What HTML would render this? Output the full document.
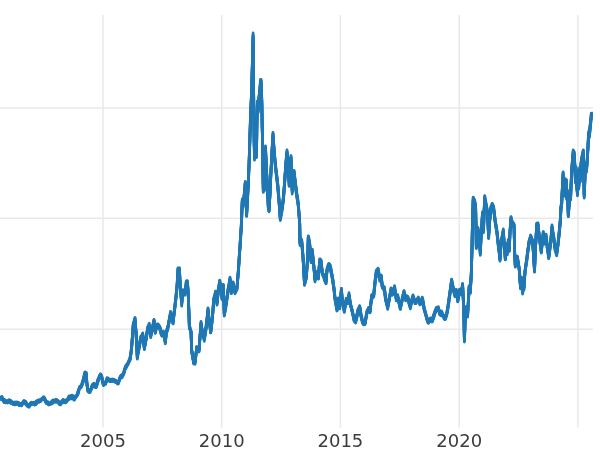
<!DOCTYPE html>
<html><head><meta charset="utf-8"><title>chart</title>
<style>
html,body{margin:0;padding:0;background:#fff;}
body{width:600px;height:450px;overflow:hidden;}
svg{display:block;}
text{font-family:"DejaVu Sans","Liberation Sans",sans-serif;font-size:18px;fill:#3c3c3c;}
</style></head><body>
<svg width="600" height="450" viewBox="0 0 600 450">
<rect width="600" height="450" fill="#fff"/>
<defs><clipPath id="ax"><rect x="-5" y="15" width="597.8" height="412.6"/></clipPath></defs>
<g stroke="#e9e9e9" stroke-width="1.5" fill="none">
<path d="M103,15V427.6M221.7,15V427.6M340.4,15V427.6M459.2,15V427.6M577.9,15V427.6"/>
<path d="M0,108.1H592.8M0,218.3H592.8M0,329.2H592.8"/>
</g>
<g clip-path="url(#ax)" fill="none" stroke="#1f77b4" stroke-width="2.78" stroke-linejoin="round" stroke-linecap="butt">
<polyline points="-2.0,397.1 -1.5,397.7 -1.0,398.0 -0.5,398.5 0.0,398.8 0.5,398.1 1.0,397.3 1.5,396.6 2.0,396.4 2.5,397.7 3.0,398.9 3.5,399.7 4.0,399.8 4.5,399.4 5.0,400.1 5.5,400.8 6.0,400.7 6.5,401.1 7.0,401.0 7.5,400.3 8.0,400.4 8.5,400.5 9.0,399.7 9.5,399.7 10.0,400.3 10.5,400.2 11.0,400.8 11.5,401.7 12.0,402.0 12.5,402.0 13.0,402.1 13.5,402.2 14.0,402.2 14.5,402.1 15.0,402.2 15.5,402.6 16.0,402.5 16.5,402.1 17.0,402.1 17.5,402.1 18.0,402.2 18.5,402.6 19.0,403.0 19.5,403.1 20.0,403.4 20.5,403.8 21.0,404.1 21.5,404.3 22.0,403.3 22.5,402.7 23.0,401.9 23.5,401.2 24.0,400.8 24.5,401.1 25.0,401.1 25.5,401.1 26.0,401.8 26.5,403.0 27.0,403.7 27.5,404.4 28.0,405.0 28.5,404.9 29.0,404.4 29.5,403.9 30.0,403.5 30.5,403.0 31.0,403.0 31.5,402.6 32.0,402.5 32.5,402.4 33.0,402.5 33.5,402.2 34.0,402.3 34.5,403.0 35.0,402.9 35.5,402.1 36.0,401.2 36.5,400.9 37.0,400.6 37.5,400.2 38.0,399.9 38.5,399.9 39.0,400.1 39.5,400.3 40.0,400.1 40.5,399.4 41.0,399.0 41.5,399.2 42.0,399.1 42.5,398.6 43.0,398.4 43.5,397.8 44.0,397.0 44.5,398.0 45.0,398.8 45.5,399.7 46.0,401.1 46.5,401.8 47.0,401.6 47.5,401.7 48.0,401.7 48.5,402.3 49.0,403.1 49.5,403.2 50.0,402.9 50.5,402.9 51.0,402.7 51.5,401.8 52.0,400.7 52.5,400.4 53.0,400.1 53.5,399.8 54.0,400.0 54.5,400.4 55.0,400.6 55.5,400.2 56.0,399.2 56.5,399.4 57.0,400.1 57.5,400.1 58.0,400.5 58.5,401.1 59.0,401.6 59.5,402.5 60.0,402.9 60.5,401.8 61.0,401.6 61.5,402.0 62.0,401.5 62.5,400.2 63.0,399.7 63.5,400.6 64.0,400.8 64.5,400.1 65.0,400.2 65.5,400.9 66.0,400.9 66.5,399.8 67.0,399.6 67.5,399.3 68.0,398.2 68.5,396.9 69.0,396.0 69.5,396.5 70.0,396.6 70.5,395.8 71.0,395.3 71.5,395.4 72.0,395.1 72.5,395.3 73.0,395.8 73.5,396.8 74.0,397.4 74.5,397.3 75.0,396.2 75.5,395.8 76.0,395.8 76.5,395.8 77.0,394.9 77.5,393.1 78.0,391.1 78.5,390.4 79.0,389.0 79.5,387.0 80.0,386.7 80.5,386.4 81.0,386.0 81.5,385.1 82.0,382.9 82.5,381.2 83.0,379.8 83.5,378.6 84.0,376.0 84.5,373.4 84.8,372.0 85.0,371.9 85.5,372.1 86.0,372.4 86.2,372.4 86.5,377.2 87.0,383.3 87.5,386.5 88.0,390.1 88.5,389.7 89.0,389.9 89.5,390.1 90.0,390.0 90.5,389.0 91.0,388.5 91.5,387.2 92.0,385.1 92.5,384.4 93.0,384.0 93.5,383.6 94.0,383.3 94.5,384.3 95.0,385.4 95.5,385.7 96.0,385.9 96.5,384.8 97.0,382.8 97.5,380.6 98.0,379.3 98.5,378.6 99.0,377.0 99.5,375.5 100.0,374.9 100.5,374.6 101.0,375.0 101.5,375.8 102.0,377.7 102.5,380.1 103.0,381.7 103.5,383.0 104.0,383.1 104.5,383.7 105.0,383.6 105.5,383.0 106.0,381.2 106.5,379.1 107.0,377.6 107.5,377.8 108.0,378.1 108.5,378.5 109.0,379.2 109.5,379.4 110.0,379.1 110.3,379.2 110.5,379.8 111.0,380.1 111.5,379.5 112.0,379.1 112.5,379.0 113.0,378.9 113.5,379.4 114.0,379.6 114.5,379.4 115.0,379.9 115.5,380.2 115.7,380.2 116.0,380.6 116.5,381.0 117.0,381.6 117.5,381.6 118.0,381.2 118.3,381.2 118.5,381.0 119.0,380.0 119.5,378.6 120.0,377.3 120.3,376.4 120.5,375.8 121.0,375.4 121.5,374.8 122.0,374.4 122.5,374.6 123.0,374.6 123.5,373.2 124.0,371.2 124.5,369.4 125.0,367.9 125.5,366.2 126.0,365.2 126.5,364.9 127.0,364.0 127.5,363.2 127.7,363.1 128.0,362.5 128.5,361.7 129.0,360.5 129.5,358.8 130.0,356.7 130.3,356.2 130.5,355.5 131.0,351.4 131.5,347.1 132.0,341.3 132.5,334.5 133.0,327.7 133.3,323.0 133.5,322.5 134.0,321.3 134.5,319.4 135.0,317.5 135.5,324.6 136.0,331.4 136.5,340.1 137.0,350.1 137.3,355.8 137.5,354.3 138.0,351.2 138.5,348.4 138.7,347.6 139.0,346.4 139.5,344.0 140.0,340.7 140.5,337.7 140.7,336.5 141.0,335.9 141.5,335.7 142.0,335.4 142.5,333.5 142.7,332.8 143.0,336.0 143.5,339.2 144.0,342.9 144.4,347.3 145.0,344.0 145.5,341.5 146.0,338.3 146.5,334.9 147.0,332.0 147.5,329.3 148.0,326.7 148.5,325.3 149.0,323.8 149.3,323.3 149.5,325.6 150.0,329.6 150.5,333.3 150.7,334.9 151.0,333.4 151.5,331.1 152.0,329.5 152.5,326.8 152.7,325.5 153.0,323.9 153.5,321.8 154.0,319.4 154.5,324.0 155.0,327.6 155.3,330.3 155.5,329.1 156.0,327.4 156.5,326.4 157.0,324.8 157.3,324.0 157.5,324.0 158.0,323.9 158.5,324.7 159.0,325.9 159.5,326.5 160.0,327.4 160.5,329.0 161.0,330.9 161.5,333.0 162.0,334.9 162.5,333.2 163.0,331.9 163.3,331.0 163.5,332.2 164.0,333.9 164.5,336.6 165.0,339.7 165.3,341.3 165.5,338.9 166.0,335.0 166.5,331.0 167.0,329.4 167.5,327.4 168.0,325.6 168.3,324.9 168.5,324.2 169.0,321.3 169.5,318.0 170.0,315.1 170.5,311.4 171.0,313.8 171.5,315.3 172.0,317.4 172.5,318.7 173.0,321.0 173.5,316.1 174.0,312.1 174.5,308.3 175.0,304.0 175.5,300.0 176.0,295.6 176.5,290.2 177.0,285.6 177.5,277.9 178.0,267.9 178.5,268.0 179.0,268.1 179.4,267.7 180.0,280.1 180.3,285.3 180.5,287.2 181.0,293.9 181.5,300.3 181.7,302.6 182.0,299.1 182.5,294.3 183.0,289.6 183.5,290.9 184.0,291.3 184.5,291.1 185.0,292.0 185.5,287.6 186.0,284.6 186.3,281.4 186.5,280.9 187.0,280.5 187.4,280.8 188.0,289.5 188.3,293.5 188.5,300.4 189.0,314.2 189.4,326.4 190.0,326.8 190.5,329.9 191.0,330.8 191.5,345.2 191.7,350.3 192.0,351.1 192.5,353.8 193.0,357.2 193.5,360.5 193.7,361.6 194.0,361.3 194.5,361.8 195.0,362.5 195.5,358.1 196.0,353.6 196.5,349.3 196.7,346.7 197.0,346.8 197.5,347.5 198.0,347.8 198.5,347.9 199.0,349.6 199.5,342.6 200.0,335.8 200.5,328.8 201.0,321.5 201.5,326.0 202.0,329.0 202.3,330.0 202.5,330.6 203.0,332.6 203.5,334.4 204.0,336.4 204.3,337.7 204.5,336.8 205.0,334.0 205.5,330.7 206.0,326.4 206.3,324.0 206.5,322.7 207.0,318.2 207.5,313.3 208.0,307.8 208.5,312.6 209.0,317.3 209.5,322.0 209.7,323.2 210.0,325.3 210.5,329.8 210.7,331.5 211.0,328.6 211.5,324.1 212.0,320.1 212.3,318.1 212.5,315.9 213.0,308.4 213.5,301.5 213.7,298.5 214.0,297.3 214.5,295.2 215.0,293.4 215.5,291.4 215.7,291.1 216.0,294.3 216.5,297.4 217.0,301.8 217.5,295.9 218.0,291.2 218.3,288.4 218.5,287.1 219.0,284.7 219.5,281.7 219.7,280.1 220.0,281.4 220.5,285.1 220.7,286.4 221.0,288.6 221.5,291.5 222.0,296.1 222.5,292.2 223.0,287.6 223.3,284.4 223.5,290.7 224.0,303.9 224.3,313.0 224.5,312.1 225.0,309.2 225.5,305.4 226.0,303.3 226.3,301.6 226.5,300.3 227.0,296.9 227.5,293.0 228.0,289.3 228.3,287.0 228.5,285.5 229.0,283.5 229.5,280.3 230.0,277.1 230.5,282.7 231.0,286.9 231.3,290.3 231.5,288.9 232.0,286.3 232.5,285.2 233.0,282.4 233.5,285.1 234.0,287.1 234.5,289.4 235.0,290.8 235.5,289.6 236.0,289.0 236.5,287.5 237.0,286.5 237.5,280.8 238.0,274.9 238.3,270.7 238.5,267.9 239.0,260.3 239.4,254.0 240.0,245.5 240.3,240.1 240.5,236.5 241.0,229.2 241.2,226.5 241.5,219.2 241.8,210.9 242.0,206.2 242.3,198.8 242.5,200.8 243.0,204.1 243.5,199.4 243.8,197.1 244.0,195.8 244.5,190.6 245.0,184.5 245.3,181.8 245.5,187.0 246.0,196.7 246.6,212.9 247.0,205.1 247.5,195.5 248.0,186.2 248.3,180.8 248.5,176.3 249.1,161.6 249.5,148.8 249.7,142.2 250.0,132.1 250.4,118.5 251.0,103.5 251.4,95.5 252.0,75.8 252.3,63.9 252.5,56.0 253.1,33.0 253.4,64.2 253.7,98.0 253.9,116.4 254.2,140.7 254.5,154.7 255.0,142.2 255.2,137.6 255.5,131.4 255.7,127.8 256.1,141.5 256.5,154.1 256.7,135.7 256.9,121.1 257.4,101.2 258.0,109.5 258.5,103.2 259.0,96.5 259.3,94.3 259.5,91.8 260.0,86.4 260.5,79.3 261.1,79.4 261.5,91.3 261.8,100.2 262.0,112.6 262.2,124.8 262.6,140.9 262.9,165.8 263.3,188.2 263.5,183.3 263.8,174.9 264.0,179.1 264.3,186.3 264.5,178.1 264.8,167.9 265.0,163.1 265.5,146.0 266.0,157.6 266.3,164.9 266.5,169.1 267.0,177.1 267.5,185.6 268.0,197.4 268.3,204.3 268.5,205.5 269.0,209.0 269.5,200.2 270.0,191.1 270.5,180.0 271.0,169.4 271.5,160.1 272.0,149.5 272.5,140.9 273.0,132.4 273.5,140.2 274.0,148.2 274.5,154.2 275.0,159.4 275.5,163.7 276.0,168.8 276.5,173.0 277.0,177.0 277.5,181.1 278.0,186.3 278.5,192.5 279.0,198.7 279.3,202.5 279.5,205.1 280.0,212.8 280.3,217.3 280.5,215.3 281.0,211.5 281.5,209.3 281.7,208.6 282.0,206.8 282.5,203.8 283.0,199.1 283.5,195.9 284.0,189.3 284.5,182.8 284.8,177.8 285.0,174.5 285.5,168.0 285.8,162.9 286.0,160.3 286.5,155.1 287.0,149.8 287.5,155.8 287.8,160.1 288.0,162.0 288.6,168.1 289.0,177.6 289.2,182.0 289.5,174.0 289.8,167.5 290.0,165.7 290.4,158.2 291.0,155.5 291.6,171.6 292.0,182.5 292.2,188.7 292.5,184.1 293.0,176.0 293.5,174.8 294.0,170.4 294.5,174.8 295.0,178.4 295.3,179.9 295.5,182.0 296.0,186.8 296.3,189.4 296.5,191.1 297.0,194.8 297.5,197.0 298.0,200.8 298.3,202.3 298.5,205.0 299.0,212.0 299.5,219.0 299.7,222.1 300.0,242.4 300.5,240.0 301.0,238.4 301.5,240.3 301.7,239.4 302.0,242.6 302.5,249.1 303.0,255.6 303.5,264.3 304.0,273.2 304.5,283.1 305.0,281.1 305.5,279.0 306.0,276.5 306.3,274.8 306.5,272.1 307.0,265.4 307.5,258.4 307.7,256.2 308.0,247.0 308.3,235.8 308.5,236.4 309.0,238.8 309.5,241.6 309.7,242.7 310.0,245.9 310.5,251.9 311.0,259.2 311.5,254.8 312.0,252.6 312.3,249.4 312.5,251.7 313.0,256.7 313.5,261.6 313.7,263.7 314.0,266.9 314.5,271.8 315.0,277.8 315.5,275.7 316.0,274.9 316.5,273.0 317.0,271.1 317.5,273.2 318.0,274.9 318.3,276.4 318.5,273.9 319.0,268.1 319.5,262.0 319.7,258.8 320.0,258.8 320.5,259.1 321.0,259.8 321.5,264.3 322.0,269.1 322.3,272.1 322.5,272.3 323.0,273.8 323.5,274.5 323.7,274.4 324.0,275.5 324.5,277.0 325.0,277.3 325.5,278.6 326.0,280.9 326.5,274.3 327.0,268.4 327.5,266.9 328.0,265.0 328.5,263.7 329.0,263.4 329.5,264.2 330.0,264.7 330.5,266.3 331.0,268.7 331.5,272.0 332.0,274.4 332.5,276.6 333.0,280.1 333.5,284.1 333.7,285.5 334.0,288.1 334.5,292.6 335.0,296.5 335.5,299.2 336.0,302.0 336.5,305.7 337.0,309.1 337.5,304.8 338.0,301.0 338.3,297.8 338.5,299.4 339.0,302.1 339.5,304.5 339.7,306.1 340.0,302.8 340.5,298.2 341.0,293.4 341.4,288.5 342.0,296.0 342.3,298.7 342.5,300.0 343.0,302.5 343.5,304.6 344.0,307.3 344.3,308.6 344.5,307.3 345.0,305.2 345.5,302.1 346.0,299.5 346.3,298.2 346.5,299.7 347.0,300.5 347.5,301.4 347.7,301.9 348.0,299.4 348.5,296.2 349.0,292.6 349.5,296.8 350.0,300.3 350.3,302.6 350.5,302.9 351.0,305.4 351.5,307.8 352.0,309.3 352.3,309.7 352.5,310.6 353.0,313.7 353.5,316.2 353.7,316.6 354.0,316.9 354.5,318.1 355.0,319.7 355.5,320.5 355.7,320.9 356.0,319.1 356.5,317.0 357.0,314.3 357.5,311.3 357.7,310.3 358.0,309.1 358.5,308.1 359.0,307.7 359.5,306.5 359.7,306.0 360.0,308.1 360.5,310.1 361.0,313.5 361.5,315.5 362.0,318.3 362.5,320.6 363.0,321.7 363.5,322.5 364.0,323.0 364.5,322.7 365.0,322.6 365.5,320.1 366.0,316.9 366.5,313.4 367.0,310.6 367.5,309.7 368.0,308.9 368.5,307.3 369.0,307.4 369.5,307.5 370.0,309.0 370.5,304.7 371.0,301.3 371.5,297.5 371.7,295.2 372.0,295.2 372.5,294.3 373.0,294.5 373.5,294.3 373.7,294.0 374.0,290.6 374.5,286.4 375.0,281.0 375.5,276.8 376.0,273.0 376.3,270.6 376.5,270.1 377.0,269.6 377.5,269.4 378.0,268.1 378.5,270.3 379.0,273.2 379.5,276.1 379.7,278.1 380.0,276.8 380.5,275.7 381.0,275.4 381.3,275.0 381.5,278.0 382.0,282.6 382.3,285.7 382.5,285.6 383.0,285.6 383.5,286.3 384.0,287.1 384.3,286.7 384.5,288.8 385.0,291.8 385.5,295.9 385.7,297.6 386.0,299.2 386.5,301.1 387.0,302.6 387.5,304.6 387.7,305.4 388.0,303.6 388.5,301.9 389.0,299.7 389.5,296.0 389.7,294.6 390.0,293.5 390.5,291.2 391.0,287.8 391.5,289.9 392.0,292.2 392.3,292.9 392.5,291.9 393.0,290.9 393.5,289.1 394.0,287.8 394.6,285.7 395.0,289.4 395.5,292.6 396.0,295.7 396.3,297.9 396.5,296.6 397.0,296.1 397.5,295.7 397.7,294.7 398.0,296.4 398.5,298.9 399.0,301.0 399.5,302.9 400.0,305.2 400.3,306.7 400.5,305.7 401.0,304.0 401.5,302.3 402.0,299.0 402.3,297.0 402.5,296.3 403.0,294.4 403.5,292.8 404.0,290.6 404.5,293.1 405.0,294.5 405.5,296.0 405.7,297.8 406.0,297.5 406.5,296.9 407.0,295.7 407.5,296.5 407.7,296.5 408.0,297.1 408.5,298.4 409.0,300.8 409.5,302.9 410.0,304.4 410.3,305.6 410.5,304.9 411.0,302.7 411.5,300.5 412.0,298.5 412.5,297.8 413.0,295.5 413.5,296.9 414.0,297.8 414.5,299.3 415.0,300.8 415.5,301.1 416.0,300.6 416.5,300.3 417.0,299.7 417.5,298.4 418.0,297.5 418.3,297.0 418.5,297.7 419.0,299.5 419.5,301.2 420.0,302.0 420.5,301.1 421.0,300.6 421.5,299.8 422.0,298.8 422.3,297.2 422.5,298.0 423.0,299.9 423.5,302.9 424.0,306.6 424.5,308.8 425.0,310.5 425.5,312.0 426.0,313.9 426.3,315.9 426.5,316.4 427.0,317.3 427.5,319.0 428.0,319.9 428.3,320.0 428.5,320.2 429.0,319.9 429.5,319.3 430.0,319.1 430.3,318.5 430.5,317.9 431.0,318.3 431.5,318.9 432.0,319.6 432.3,319.7 432.5,318.7 433.0,316.7 433.5,315.0 434.0,313.8 434.5,312.4 435.0,310.8 435.5,309.6 436.0,308.3 436.5,307.4 437.0,307.2 437.5,307.2 438.0,306.9 438.3,306.6 438.5,307.3 439.0,309.7 439.5,311.6 439.7,311.9 440.0,312.7 440.5,313.1 441.0,311.8 441.5,311.0 441.7,311.3 442.0,312.4 442.5,314.0 443.0,314.8 443.5,314.8 444.0,315.4 444.5,316.6 445.0,317.1 445.5,315.9 446.0,315.1 446.5,313.8 447.0,311.2 447.5,308.3 448.0,305.4 448.5,301.5 449.0,297.7 449.5,294.5 450.0,291.3 450.3,288.7 450.5,286.7 451.0,284.3 451.6,279.4 452.0,281.6 452.5,283.9 453.0,286.1 453.2,286.8 453.5,288.0 454.0,290.1 454.5,291.5 455.0,293.4 455.5,291.9 456.0,290.8 456.2,289.3 456.5,291.7 457.0,294.6 457.5,296.7 457.8,298.8 458.0,297.4 458.5,294.0 459.0,291.5 459.6,289.1 460.0,289.6 460.5,290.0 461.0,290.9 461.5,289.5 462.0,287.7 462.6,283.3 463.0,291.6 463.5,302.3 463.7,305.3 464.0,319.3 464.4,339.7 465.0,323.8 465.5,312.6 465.7,306.6 466.0,308.0 466.5,310.8 467.0,311.2 467.6,314.3 468.0,305.8 468.5,297.3 469.1,285.6 469.5,288.9 470.0,290.2 470.2,291.9 470.5,286.3 471.0,277.4 471.3,272.5 471.5,265.1 472.0,247.0 472.4,225.2 473.0,204.5 473.2,197.3 473.5,198.1 474.0,199.0 474.5,199.5 475.0,201.8 475.6,205.0 476.0,225.7 476.3,245.5 476.5,243.0 477.0,237.3 477.2,234.2 477.5,231.6 478.0,227.5 478.5,232.5 479.0,236.2 479.5,240.0 480.0,246.3 480.3,250.2 480.5,245.9 481.0,235.1 481.2,232.4 481.5,228.8 482.0,220.2 482.5,211.8 483.0,218.5 483.5,228.3 484.1,210.3 484.5,201.6 484.7,195.6 485.0,196.9 485.5,200.1 486.0,203.4 486.5,206.3 487.0,208.9 487.3,210.1 487.5,213.6 488.0,221.0 488.6,235.3 489.0,229.2 489.6,219.5 490.0,215.1 490.5,209.7 490.8,206.4 491.0,206.4 491.5,205.0 492.0,203.4 492.5,203.6 493.0,205.1 493.5,205.9 494.0,209.9 494.5,213.9 495.1,219.7 495.5,222.1 496.0,224.3 496.5,227.2 497.0,230.7 497.4,233.8 498.0,240.1 498.5,245.6 499.0,248.8 499.5,253.7 500.0,258.2 500.5,249.6 501.0,243.3 501.3,240.2 501.5,239.4 502.0,237.2 502.5,234.4 503.0,231.1 503.3,229.0 503.5,231.8 504.0,239.1 504.3,242.2 504.5,244.5 505.0,252.5 505.3,256.7 505.5,253.3 506.0,247.4 506.3,243.9 506.5,245.9 507.0,248.9 507.3,250.6 507.5,247.6 508.0,242.7 508.3,239.4 508.5,241.1 509.0,245.5 509.3,248.9 509.5,242.9 510.0,229.9 510.5,224.0 511.0,217.1 511.5,219.9 512.0,220.7 512.3,222.0 512.5,221.6 513.0,222.7 513.5,223.0 514.0,223.5 514.5,243.9 514.7,252.2 515.0,257.9 515.3,264.2 515.5,262.9 516.0,259.8 516.5,259.0 517.0,258.2 517.3,256.6 517.5,257.8 518.0,260.8 518.5,263.7 519.0,266.6 519.3,268.6 519.5,270.8 520.0,279.2 520.5,284.6 520.7,286.3 521.0,281.9 521.4,277.2 522.0,284.9 522.5,288.4 522.7,290.3 523.0,285.4 523.4,280.2 524.0,286.5 524.5,277.3 524.7,274.9 525.0,271.5 525.3,268.7 525.5,267.3 526.0,263.3 526.5,260.0 526.7,258.7 527.0,256.0 527.5,252.2 528.0,248.6 528.5,244.6 528.7,242.5 529.0,241.1 529.5,239.7 530.0,237.7 530.5,235.6 530.7,235.0 531.0,236.5 531.5,237.7 532.0,238.8 532.5,239.5 532.7,239.8 533.0,244.9 533.5,250.8 534.0,259.8 534.5,269.2 535.0,256.9 535.5,245.6 536.0,237.4 536.5,227.2 536.7,223.2 537.0,223.5 537.5,223.2 538.0,222.8 538.5,228.7 539.0,232.8 539.3,235.7 539.5,237.2 540.0,240.3 540.5,243.2 541.0,247.4 541.3,250.4 541.5,248.3 542.0,242.4 542.5,238.6 543.0,234.1 543.3,231.8 543.5,234.0 544.0,236.4 544.5,238.4 544.7,239.9 545.0,238.3 545.5,237.1 546.0,234.1 546.5,238.4 547.0,242.4 547.3,245.2 547.5,247.1 548.0,249.9 548.5,253.4 548.7,255.1 549.0,253.2 549.5,249.1 550.0,245.8 550.5,242.3 550.7,240.3 551.0,236.6 551.5,231.6 552.0,224.9 552.5,228.7 553.0,231.8 553.5,234.0 554.0,238.0 554.5,242.3 555.0,246.3 555.3,247.6 555.5,247.5 556.0,249.3 556.5,251.7 556.7,252.6 557.0,249.5 557.5,245.6 558.0,242.4 558.5,238.6 559.0,233.6 559.3,230.0 559.5,228.0 560.0,223.1 560.3,219.4 560.5,215.8 561.0,205.1 561.6,203.7 562.0,194.2 562.2,190.5 562.5,184.3 563.1,172.0 563.5,179.6 563.8,184.0 564.0,181.9 564.4,178.0 565.0,192.4 565.6,181.5 566.0,180.5 566.3,179.5 566.5,187.4 566.8,196.2 567.0,193.9 567.3,189.6 567.5,194.4 568.0,204.4 568.3,212.2 568.5,209.9 569.0,204.1 569.2,201.7 569.5,199.0 570.0,193.6 570.6,195.9 571.0,184.4 571.3,177.5 571.5,173.1 572.0,164.4 572.5,158.3 573.0,152.3 573.2,150.0 573.5,150.7 574.0,151.7 574.2,152.0 574.5,158.5 574.8,163.1 575.0,167.0 575.4,177.8 576.0,170.0 576.2,167.0 576.5,176.2 576.8,184.1 577.0,186.2 577.5,191.8 578.0,180.1 578.2,177.4 578.5,180.7 578.8,184.2 579.0,179.8 579.5,167.7 580.0,174.1 580.2,178.7 580.5,171.4 580.9,162.9 581.5,159.0 582.0,156.0 582.5,153.6 583.0,151.0 583.3,149.9 583.5,160.1 583.8,171.6 584.0,183.0 584.2,193.9 584.5,185.9 584.9,176.3 585.5,163.2 586.0,167.3 586.3,167.9 586.5,165.7 587.0,161.1 587.2,159.1 587.5,152.0 588.0,144.3 588.6,131.3 589.0,134.0 589.3,132.8 589.5,130.5 590.0,125.4 590.2,124.0 590.5,121.8 591.0,117.4 591.3,113.2 591.5,113.4 592.0,114.1 592.5,113.1 593.0,113.0 593.5,113.4 594.0,113.9"/>
<polyline points="-2.0,397.4 -1.5,397.2 -1.0,397.2 -0.5,397.6 0.0,398.5 0.5,398.2 1.0,397.7 1.5,397.9 2.0,397.7 2.5,398.0 3.0,398.7 3.5,399.7 4.0,400.0 4.5,400.0 5.0,400.7 5.5,401.1 6.0,401.6 6.5,401.8 7.0,401.1 7.5,400.9 8.0,401.0 8.5,401.0 9.0,400.9 9.5,400.8 10.0,401.3 10.5,401.2 11.0,401.0 11.5,401.7 12.0,402.7 12.5,403.4 13.0,403.7 13.5,402.8 14.0,402.3 14.5,402.6 15.0,402.6 15.5,402.4 16.0,401.9 16.5,402.2 17.0,402.6 17.5,402.4 18.0,402.3 18.5,402.9 19.0,403.9 19.5,404.4 20.0,404.2 20.5,404.5 21.0,404.8 21.5,404.7 22.0,403.7 22.5,402.8 23.0,402.1 23.5,401.1 24.0,400.5 24.5,401.6 25.0,402.3 25.5,403.1 26.0,403.7 26.5,403.9 27.0,404.5 27.5,404.8 28.0,405.0 28.5,405.4 29.0,405.3 29.5,404.5 30.0,404.1 30.5,403.2 31.0,402.6 31.5,402.3 32.0,402.3 32.5,402.8 33.0,403.2 33.5,403.1 34.0,403.1 34.5,403.8 35.0,403.5 35.5,402.8 36.0,403.0 36.5,402.7 37.0,401.9 37.5,402.0 38.0,401.6 38.5,400.7 39.0,400.9 39.5,401.2 40.0,400.5 40.5,399.4 41.0,399.1 41.5,399.0 42.0,398.6 42.5,398.0 43.0,397.2 43.5,396.8 44.0,397.0 44.5,398.2 45.0,399.7 45.5,400.6 46.0,400.8 46.5,401.8 47.0,402.9 47.5,402.9 48.0,402.6 48.5,402.7 49.0,403.1 49.5,403.7 50.0,403.2 50.5,402.8 51.0,402.5 51.5,401.9 52.0,401.3 52.5,400.9 53.0,400.7 53.5,400.8 54.0,400.7 54.5,400.6 55.0,400.6 55.5,400.7 56.0,400.8 56.5,400.8 57.0,400.9 57.5,401.3 58.0,401.6 58.5,401.6 59.0,401.9 59.5,402.4 60.0,402.8 60.5,402.9 61.0,403.0 61.5,402.6 62.0,401.7 62.5,400.4 63.0,399.5 63.5,400.0 64.0,400.3 64.5,400.1 65.0,400.4 65.5,401.2 66.0,400.9 66.5,399.8 67.0,399.7 67.5,399.5 68.0,398.5 68.5,397.6 69.0,397.0 69.5,396.9 70.0,397.5 70.5,397.4 71.0,396.6 71.5,396.7 72.0,397.1 72.5,397.0 73.0,396.5 73.5,396.6 74.0,397.1 74.5,397.6 75.0,397.5 75.5,396.8 76.0,396.0 76.5,395.4 77.0,394.5 77.5,393.8 78.0,392.0 78.5,390.2 79.0,389.0 79.5,387.4 80.0,386.3 80.5,385.8 81.0,385.8 81.5,386.0 82.0,384.8 82.5,383.3 83.0,381.8 83.5,379.9 84.0,376.7 84.5,374.4 84.8,373.1 85.0,373.4 85.5,373.6 86.0,373.3 86.2,373.0 86.5,377.9 87.0,384.3 87.5,387.1 88.0,390.0 88.5,390.2 89.0,391.3 89.5,391.4 90.0,391.1 90.5,390.4 91.0,389.1 91.5,387.2 92.0,385.9 92.5,385.3 93.0,384.3 93.5,383.8 94.0,383.4 94.5,384.1 95.0,385.4 95.5,386.0 96.0,386.2 96.5,385.6 97.0,384.0 97.5,381.5 98.0,379.3 98.5,378.3 99.0,377.5 99.5,376.5 100.0,374.9 100.5,373.7 101.0,374.3 101.5,375.4 102.0,377.1 102.5,380.2 103.0,382.6 103.5,384.2 104.0,384.5 104.5,384.3 105.0,383.5 105.5,382.5 106.0,381.0 106.5,380.2 107.0,379.2 107.5,378.6 108.0,378.6 108.5,378.8 109.0,379.1 109.5,380.0 110.0,380.9 110.3,381.1 110.5,380.2 111.0,379.3 111.5,379.4 112.0,380.1 112.5,380.0 113.0,379.5 113.5,380.2 114.0,380.4 114.5,380.2 115.0,380.8 115.5,381.3 115.7,381.4 116.0,381.5 116.5,381.8 117.0,382.2 117.5,382.3 118.0,381.9 118.3,382.0 118.5,381.9 119.0,380.2 119.5,378.4 120.0,376.9 120.3,376.4 120.5,376.4 121.0,375.8 121.5,375.6 122.0,375.5 122.5,375.2 123.0,374.9 123.5,373.2 124.0,371.4 124.5,370.0 125.0,368.3 125.5,367.0 126.0,366.2 126.5,365.7 127.0,364.5 127.5,363.5 127.7,363.7 128.0,363.3 128.5,361.6 129.0,360.3 129.5,360.1 130.0,358.8 130.3,357.7 130.5,356.2 131.0,352.4 131.5,348.4 132.0,341.8 132.5,335.1 133.0,328.8 133.3,324.0 133.5,323.5 134.0,321.8 134.5,319.6 135.0,317.9 135.5,324.9 136.0,331.7 136.5,340.3 137.0,350.1 137.3,356.0 137.5,355.1 138.0,352.4 138.5,349.5 138.7,348.8 139.0,347.4 139.5,344.3 140.0,341.3 140.5,338.9 140.7,338.1 141.0,336.9 141.5,335.8 142.0,335.6 142.5,334.2 142.7,333.8 143.0,336.7 143.5,340.2 144.0,344.3 144.4,348.1 145.0,343.9 145.5,340.9 146.0,338.3 146.5,335.9 147.0,332.7 147.5,328.9 148.0,326.2 148.5,325.9 149.0,325.6 149.3,325.3 149.5,327.1 150.0,330.5 150.5,333.6 150.7,335.0 151.0,333.9 151.5,331.8 152.0,329.7 152.5,327.1 152.7,326.4 153.0,324.9 153.5,322.4 154.0,319.9 154.5,324.7 155.0,327.5 155.3,330.2 155.5,329.5 156.0,328.2 156.5,327.7 157.0,326.1 157.3,325.3 157.5,324.6 158.0,324.4 158.5,325.1 159.0,325.4 159.5,326.1 160.0,327.5 160.5,329.6 161.0,331.7 161.5,332.8 162.0,334.8 162.5,334.4 163.0,332.9 163.3,331.3 163.5,332.3 164.0,334.1 164.5,336.5 165.0,339.4 165.3,341.0 165.5,338.8 166.0,334.6 166.5,330.8 167.0,329.3 167.5,327.5 168.0,326.0 168.3,324.9 168.5,323.5 169.0,320.3 169.5,317.7 170.0,316.2 170.5,312.8 171.0,315.1 171.5,316.7 172.0,318.9 172.5,320.3 173.0,322.6 173.5,317.5 174.0,313.2 174.5,309.4 175.0,305.2 175.5,300.9 176.0,296.0 176.5,290.7 177.0,285.7 177.5,277.9 178.0,268.3 178.5,268.2 179.0,268.8 179.4,268.7 180.0,280.5 180.3,285.9 180.5,288.3 181.0,294.3 181.5,300.5 181.7,303.2 182.0,299.6 182.5,295.0 183.0,290.3 183.5,291.5 184.0,291.7 184.5,291.9 185.0,293.0 185.5,288.3 186.0,284.7 186.3,281.2 186.5,281.3 187.0,281.2 187.4,281.1 188.0,290.1 188.3,294.2 188.5,300.3 189.0,314.6 189.4,328.0 190.0,328.5 190.5,330.9 191.0,331.1 191.5,345.0 191.7,350.0 192.0,351.6 192.5,354.6 193.0,357.9 193.5,361.4 193.7,362.5 194.0,362.1 194.5,361.9 195.0,361.7 195.5,357.4 196.0,353.6 196.5,349.4 196.7,346.9 197.0,347.8 197.5,348.4 198.0,348.4 198.5,348.5 199.0,349.9 199.5,342.7 200.0,336.7 200.5,330.6 201.0,323.0 201.5,326.5 202.0,329.1 202.3,330.9 202.5,332.5 203.0,334.5 203.5,335.9 204.0,337.9 204.3,339.2 204.5,337.3 205.0,334.1 205.5,331.4 206.0,327.2 206.3,325.0 206.5,324.1 207.0,319.3 207.5,313.9 208.0,308.9 208.5,314.2 209.0,318.7 209.5,322.6 209.7,323.7 210.0,326.1 210.5,330.2 210.7,331.3 211.0,328.5 211.5,324.7 212.0,320.9 212.3,318.2 212.5,316.1 213.0,309.2 213.5,302.0 213.7,298.7 214.0,298.2 214.5,297.1 215.0,295.1 215.5,292.3 215.7,291.2 216.0,294.3 216.5,297.8 217.0,302.8 217.5,297.9 218.0,293.9 218.3,291.1 218.5,289.2 219.0,285.6 219.5,282.0 219.7,281.0 220.0,283.2 220.5,286.2 220.7,286.8 221.0,289.3 221.5,292.3 222.0,296.5 222.5,292.7 223.0,287.9 223.3,284.6 223.5,291.4 224.0,305.1 224.3,314.7 224.5,313.2 225.0,309.3 225.5,305.6 226.0,303.9 226.3,302.7 226.5,301.0 227.0,296.7 227.5,293.4 228.0,290.3 228.3,288.3 228.5,287.3 229.0,285.0 229.5,281.7 230.0,278.2 230.5,283.2 231.0,288.0 231.3,291.7 231.5,289.8 232.0,286.7 232.5,285.1 233.0,281.9 233.5,284.8 234.0,286.9 234.5,289.5 235.0,291.2 235.5,289.9 236.0,289.4 236.5,288.5 237.0,287.3 237.5,280.8 238.0,274.7 238.3,270.8 238.5,268.1 239.0,260.2 239.4,253.5 240.0,245.5 240.3,240.6 240.5,237.3 241.0,230.2 241.2,227.1 241.5,219.8 241.8,211.8 242.0,207.1 242.3,200.0 242.5,202.1 243.0,204.4 243.5,199.2 243.8,197.6 244.0,196.7 244.5,191.6 245.0,185.1 245.3,181.5 245.5,187.0 246.0,197.6 246.6,214.3 247.0,206.9 247.5,197.4 248.0,187.8 248.3,181.7 248.5,176.8 249.1,162.3 249.5,149.7 249.7,143.4 250.0,133.5 250.4,120.1 251.0,105.0 251.4,96.9 252.0,78.0 252.3,66.2 252.5,58.1 253.1,34.8 253.4,65.2 253.7,99.4 253.9,118.4 254.2,141.8 254.5,155.8 255.0,144.3 255.2,139.8 255.5,133.0 255.7,128.3 256.1,141.2 256.5,154.3 256.7,136.3 256.9,121.3 257.4,101.2 258.0,109.8 258.5,104.0 259.0,97.0 259.3,94.5 259.5,93.3 260.0,88.4 260.5,80.8 261.1,80.5 261.5,92.2 261.8,101.4 262.0,114.2 262.2,126.5 262.6,142.2 262.9,166.6 263.3,188.4 263.5,183.2 263.8,175.7 264.0,180.9 264.3,188.2 264.5,179.8 264.8,169.1 265.0,163.8 265.5,147.2 266.0,159.2 266.3,166.2 266.5,170.5 267.0,179.0 267.5,187.5 268.0,198.9 268.3,205.6 268.5,206.2 269.0,209.2 269.5,201.5 270.0,193.2 270.5,181.2 271.0,169.5 271.5,161.2 272.0,151.5 272.5,142.4 273.0,133.4 273.5,141.0 274.0,148.6 274.5,153.9 275.0,159.9 275.5,165.5 276.0,170.3 276.5,173.9 277.0,177.5 277.5,181.6 278.0,186.5 278.5,192.9 279.0,200.1 279.3,204.2 279.5,206.6 280.0,213.7 280.3,217.1 280.5,215.5 281.0,212.8 281.5,210.9 281.7,210.5 282.0,208.5 282.5,204.9 283.0,200.5 283.5,197.2 284.0,189.5 284.5,183.2 284.8,179.6 285.0,176.5 285.5,169.6 285.8,164.6 286.0,162.3 286.5,156.9 287.0,151.3 287.5,156.8 287.8,160.1 288.0,162.6 288.6,169.5 289.0,179.3 289.2,184.1 289.5,175.5 289.8,167.9 290.0,166.2 290.4,159.2 291.0,156.9 291.6,173.0 292.0,183.5 292.2,189.4 292.5,185.0 293.0,177.6 293.5,175.8 294.0,170.8 294.5,175.5 295.0,179.7 295.3,181.3 295.5,183.3 296.0,187.7 296.3,190.0 296.5,191.4 297.0,194.9 297.5,197.6 298.0,201.7 298.3,203.5 298.5,206.9 299.0,213.8 299.5,220.6 299.7,223.0 300.0,242.5 300.5,240.9 301.0,240.0 301.5,241.4 301.7,240.8 302.0,244.5 302.5,250.2 303.0,256.2 303.5,264.3 304.0,272.3 304.5,282.0 305.0,280.3 305.5,278.9 306.0,277.5 306.3,276.6 306.5,273.6 307.0,265.9 307.5,258.9 307.7,257.0 308.0,247.5 308.3,236.4 308.5,237.3 309.0,240.1 309.5,243.1 309.7,244.2 310.0,247.2 310.5,252.7 311.0,259.6 311.5,255.2 312.0,253.2 312.3,249.8 312.5,252.1 313.0,258.0 313.5,262.6 313.7,264.0 314.0,267.8 314.5,273.1 315.0,278.8 315.5,276.5 316.0,275.5 316.5,273.9 317.0,271.9 317.5,273.8 318.0,276.0 318.3,278.4 318.5,275.7 319.0,269.5 319.5,263.3 319.7,259.9 320.0,260.3 320.5,260.6 321.0,260.5 321.5,264.9 322.0,269.4 322.3,272.0 322.5,272.5 323.0,274.2 323.5,274.7 323.7,274.7 324.0,276.1 324.5,277.9 325.0,278.6 325.5,279.6 326.0,281.1 326.5,274.5 327.0,269.4 327.5,268.3 328.0,266.5 328.5,265.1 329.0,263.9 329.5,264.1 330.0,265.0 330.5,266.8 331.0,269.3 331.5,272.4 332.0,274.9 332.5,277.7 333.0,281.2 333.5,284.7 333.7,285.8 334.0,288.3 334.5,293.2 335.0,297.8 335.5,300.7 336.0,302.4 336.5,304.9 337.0,308.6 337.5,305.0 338.0,301.3 338.3,298.5 338.5,300.3 339.0,302.8 339.5,305.6 339.7,307.5 340.0,303.4 340.5,298.1 341.0,293.3 341.4,288.5 342.0,296.2 342.3,298.9 342.5,300.2 343.0,302.3 343.5,304.3 344.0,307.6 344.3,309.7 344.5,308.4 345.0,305.5 345.5,302.9 346.0,300.8 346.3,298.5 346.5,299.0 347.0,299.6 347.5,300.5 347.7,302.0 348.0,300.9 348.5,298.7 349.0,294.8 349.5,298.0 350.0,300.4 350.3,302.8 350.5,304.2 351.0,306.4 351.5,308.3 352.0,310.4 352.3,311.3 352.5,311.9 353.0,314.3 353.5,317.0 353.7,317.7 354.0,318.2 354.5,319.2 355.0,319.8 355.5,319.8 355.7,320.1 356.0,318.4 356.5,316.3 357.0,314.0 357.5,312.1 357.7,311.5 358.0,309.8 358.5,308.2 359.0,307.5 359.5,306.1 359.7,305.7 360.0,308.1 360.5,310.8 361.0,315.1 361.5,317.1 362.0,318.8 362.5,320.8 363.0,322.7 363.5,322.9 364.0,322.6 364.5,322.1 365.0,321.6 365.5,319.3 366.0,316.7 366.5,313.5 367.0,311.5 367.5,310.3 368.0,309.3 368.5,308.4 369.0,308.8 369.5,309.3 370.0,311.2 370.5,305.8 371.0,300.9 371.5,296.8 371.7,294.9 372.0,295.5 372.5,295.5 373.0,295.6 373.5,295.2 373.7,295.2 374.0,291.7 374.5,287.0 375.0,281.2 375.5,276.9 376.0,273.1 376.3,270.6 376.5,270.7 377.0,270.6 377.5,270.0 378.0,268.6 378.5,271.3 379.0,274.2 379.5,276.6 379.7,278.4 380.0,277.4 380.5,276.8 381.0,276.4 381.3,275.8 381.5,279.0 382.0,283.7 382.3,286.3 382.5,286.2 383.0,286.3 383.5,286.5 384.0,287.5 384.3,287.4 384.5,289.5 385.0,292.6 385.5,297.0 385.7,298.8 386.0,300.1 386.5,302.5 387.0,304.6 387.5,306.4 387.7,307.0 388.0,304.5 388.5,302.0 389.0,299.6 389.5,296.7 389.7,296.1 390.0,294.7 390.5,292.3 391.0,289.1 391.5,290.4 392.0,291.6 392.3,292.2 392.5,291.4 393.0,290.5 393.5,289.4 394.0,289.0 394.6,286.9 395.0,289.8 395.5,292.7 396.0,296.3 396.3,298.7 396.5,297.7 397.0,297.1 397.5,296.0 397.7,295.3 398.0,297.8 398.5,300.2 399.0,302.0 399.5,303.7 400.0,305.7 400.3,307.0 400.5,306.2 401.0,304.6 401.5,302.6 402.0,299.7 402.3,298.5 402.5,297.7 403.0,295.3 403.5,293.4 404.0,291.1 404.5,293.5 405.0,295.2 405.5,297.1 405.7,298.8 406.0,298.6 406.5,298.1 407.0,296.8 407.5,297.0 407.7,296.5 408.0,297.2 408.5,299.3 409.0,302.2 409.5,304.4 410.0,305.5 410.3,306.0 410.5,304.6 411.0,302.5 411.5,300.8 412.0,298.8 412.5,297.1 413.0,294.8 413.5,297.5 414.0,299.4 414.5,300.8 415.0,301.1 415.5,300.7 416.0,300.4 416.5,300.3 417.0,299.9 417.5,298.8 418.0,298.7 418.3,298.6 418.5,299.1 419.0,300.4 419.5,301.5 420.0,302.4 420.5,301.8 421.0,300.3 421.5,298.9 422.0,298.7 422.3,298.0 422.5,299.0 423.0,301.5 423.5,304.6 424.0,307.3 424.5,309.0 425.0,311.5 425.5,313.6 426.0,315.5 426.3,316.3 426.5,316.2 427.0,317.9 427.5,320.2 428.0,321.3 428.3,321.3 428.5,321.1 429.0,320.6 429.5,319.8 430.0,319.6 430.3,319.1 430.5,318.3 431.0,319.0 431.5,320.3 432.0,320.4 432.3,319.9 432.5,319.2 433.0,317.8 433.5,315.9 434.0,314.0 434.5,312.6 435.0,311.3 435.5,310.5 436.0,309.5 436.5,308.5 437.0,307.9 437.5,308.1 438.0,308.5 438.3,307.9 438.5,308.0 439.0,310.2 439.5,312.6 439.7,312.8 440.0,313.1 440.5,313.9 441.0,313.6 441.5,312.7 441.7,311.9 442.0,312.2 442.5,313.8 443.0,314.8 443.5,315.1 444.0,315.7 444.5,316.8 445.0,317.7 445.5,316.8 446.0,315.4 446.5,313.7 447.0,311.8 447.5,309.1 448.0,306.1 448.5,302.2 449.0,298.7 449.5,295.7 450.0,292.0 450.3,289.5 450.5,287.4 451.0,284.2 451.6,279.1 452.0,281.6 452.5,284.0 453.0,286.2 453.2,287.2 453.5,288.5 454.0,290.8 454.5,292.9 455.0,295.5 455.5,293.2 456.0,290.7 456.2,289.7 456.5,292.7 457.0,295.0 457.5,296.7 457.8,298.9 458.0,298.1 458.5,295.3 459.0,292.4 459.6,289.4 460.0,290.5 460.5,291.6 461.0,292.1 461.5,290.4 462.0,288.4 462.6,284.2 463.0,292.5 463.5,302.6 463.7,305.3 464.0,319.3 464.4,339.7 465.0,323.7 465.5,313.0 465.7,307.7 466.0,308.6 466.5,311.3 467.0,311.8 467.6,314.5 468.0,306.3 468.5,298.7 469.1,286.6 469.5,289.0 470.0,289.9 470.2,291.6 470.5,287.1 471.0,278.8 471.3,273.4 471.5,265.5 472.0,247.4 472.4,225.6 473.0,204.6 473.2,197.2 473.5,197.9 474.0,199.4 474.5,201.1 475.0,203.4 475.6,205.2 476.0,225.4 476.3,246.0 476.5,243.3 477.0,237.2 477.2,235.4 477.5,233.6 478.0,229.0 478.5,234.0 479.0,238.1 479.5,242.1 480.0,248.2 480.3,251.4 480.5,247.3 481.0,237.4 481.2,234.4 481.5,230.3 482.0,221.7 482.5,213.2 483.0,220.0 483.5,229.9 484.1,211.0 484.5,201.9 484.7,196.9 485.0,199.2 485.5,201.5 486.0,203.1 486.5,205.6 487.0,208.6 487.3,210.3 487.5,214.4 488.0,222.2 488.6,236.4 489.0,229.6 489.6,220.1 490.0,216.3 490.5,211.5 490.8,207.8 491.0,207.7 491.5,207.1 492.0,205.7 492.5,205.2 493.0,205.9 493.5,206.5 494.0,210.3 494.5,214.2 495.1,219.5 495.5,222.2 496.0,225.7 496.5,228.8 497.0,232.2 497.4,235.6 498.0,241.1 498.5,245.6 499.0,248.6 499.5,253.7 500.0,259.1 500.5,251.1 501.0,244.0 501.3,240.6 501.5,239.7 502.0,236.9 502.5,234.1 503.0,231.6 503.3,230.4 503.5,233.5 504.0,240.7 504.3,243.8 504.5,245.5 505.0,252.9 505.3,257.6 505.5,254.9 506.0,248.2 506.3,244.2 506.5,246.2 507.0,249.2 507.3,251.2 507.5,248.7 508.0,244.1 508.3,241.1 508.5,242.6 509.0,246.3 509.3,249.1 509.5,243.1 510.0,230.8 510.5,224.5 511.0,216.7 511.5,219.7 512.0,221.1 512.3,222.7 512.5,222.5 513.0,224.4 513.5,224.8 514.0,224.8 514.5,245.3 514.7,253.8 515.0,259.6 515.3,265.9 515.5,265.0 516.0,262.0 516.5,260.1 517.0,258.0 517.3,256.0 517.5,257.1 518.0,260.4 518.5,263.9 519.0,267.2 519.3,269.0 519.5,271.4 520.0,279.9 520.5,284.7 520.7,286.7 521.0,282.8 521.4,277.5 522.0,285.0 522.5,289.3 522.7,291.5 523.0,285.6 523.4,280.0 524.0,286.9 524.5,278.2 524.7,275.1 525.0,271.2 525.3,268.5 525.5,267.3 526.0,264.3 526.5,261.4 526.7,259.8 527.0,256.8 527.5,253.2 528.0,249.6 528.5,245.8 528.7,243.8 529.0,241.4 529.5,239.1 530.0,238.0 530.5,236.8 530.7,235.7 531.0,236.2 531.5,237.7 532.0,239.9 532.5,241.4 532.7,241.9 533.0,246.6 533.5,252.5 534.0,261.6 534.5,270.4 535.0,258.0 535.5,246.9 536.0,238.3 536.5,227.8 536.7,223.6 537.0,223.5 537.5,223.7 538.0,224.0 538.5,229.6 539.0,233.6 539.3,236.7 539.5,238.0 540.0,241.3 540.5,245.1 541.0,249.4 541.3,251.9 541.5,249.5 542.0,243.5 542.5,239.9 543.0,235.0 543.3,231.7 543.5,233.7 544.0,237.0 544.5,239.9 544.7,241.5 545.0,239.4 545.5,237.3 546.0,234.6 546.5,239.8 547.0,243.8 547.3,246.0 547.5,247.8 548.0,250.9 548.5,255.0 548.7,256.7 549.0,254.7 549.5,250.3 550.0,246.3 550.5,243.1 550.7,242.0 551.0,238.4 551.5,233.4 552.0,226.9 552.5,230.5 553.0,233.8 553.5,235.6 554.0,238.9 554.5,243.5 555.0,247.5 555.3,249.4 555.5,249.8 556.0,251.3 556.5,252.9 556.7,253.4 557.0,250.8 557.5,247.3 558.0,243.2 558.5,238.2 559.0,233.3 559.3,230.6 559.5,228.8 560.0,223.1 560.3,219.1 560.5,216.3 561.0,206.4 561.6,205.3 562.0,195.2 562.2,191.1 562.5,185.0 563.1,172.9 563.5,181.1 563.8,185.1 564.0,182.3 564.4,178.4 565.0,192.7 565.6,181.7 566.0,180.6 566.3,179.9 566.5,188.2 566.8,197.5 567.0,195.2 567.3,190.7 567.5,195.7 568.0,206.1 568.3,214.0 568.5,211.8 569.0,205.1 569.2,202.2 569.5,200.4 570.0,195.0 570.6,197.5 571.0,186.4 571.3,179.6 571.5,175.4 572.0,166.5 572.5,160.0 573.0,153.5 573.2,151.1 573.5,151.5 574.0,151.9 574.2,152.6 574.5,159.5 574.8,164.0 575.0,167.8 575.4,179.3 576.0,172.4 576.2,169.3 576.5,177.9 576.8,185.2 577.0,187.0 577.5,192.8 578.0,182.2 578.2,179.4 578.5,182.3 578.8,185.7 579.0,181.1 579.5,169.4 580.0,176.0 580.2,180.0 580.5,172.3 580.9,164.3 581.5,160.7 582.0,156.9 582.5,154.7 583.0,152.2 583.3,150.5 583.5,160.8 583.8,172.7 584.0,183.4 584.2,194.5 584.5,187.4 584.9,176.9 585.5,163.1 586.0,168.1 586.3,169.9 586.5,167.9 587.0,162.0 587.2,160.0 587.5,154.0 588.0,146.4 588.6,133.1 589.0,135.4 589.3,134.1 589.5,132.3 590.0,127.1 590.2,125.2 590.5,122.5 591.0,117.6 591.3,113.5 591.5,113.6 592.0,113.9 592.5,113.4 593.0,113.8 593.5,114.1 594.0,114.3"/>
<polyline points="-2.0,398.6 -1.5,398.7 -1.0,398.7 -0.5,398.9 0.0,399.2 0.5,399.0 1.0,398.5 1.5,398.1 2.0,397.7 2.5,398.5 3.0,399.3 3.5,400.2 4.0,400.9 4.5,401.1 5.0,401.3 5.5,401.6 6.0,402.0 6.5,402.3 7.0,402.0 7.5,401.7 8.0,401.4 8.5,401.0 9.0,400.5 9.5,400.3 10.0,400.9 10.5,401.5 11.0,401.9 11.5,402.3 12.0,402.7 12.5,403.2 13.0,403.5 13.5,403.3 14.0,403.2 14.5,403.2 15.0,403.1 15.5,403.0 16.0,402.9 16.5,403.2 17.0,403.4 17.5,403.4 18.0,403.3 18.5,403.4 19.0,403.8 19.5,404.2 20.0,404.5 20.5,404.6 21.0,404.7 21.5,404.9 22.0,404.3 22.5,403.7 23.0,403.1 23.5,402.4 24.0,401.8 24.5,402.0 25.0,402.4 25.5,403.0 26.0,403.6 26.5,404.0 27.0,404.5 27.5,405.0 28.0,405.3 28.5,405.7 29.0,406.0 29.5,405.3 30.0,404.7 30.5,404.1 31.0,403.3 31.5,402.3 32.0,402.6 32.5,403.0 33.0,403.4 33.5,403.8 34.0,404.1 34.5,404.3 35.0,403.8 35.5,403.4 36.0,402.9 36.5,402.3 37.0,401.8 37.5,401.6 38.0,401.5 38.5,401.3 39.0,400.8 39.5,400.4 40.0,400.4 40.5,400.2 41.0,399.8 41.5,399.4 42.0,399.1 42.5,398.8 43.0,398.5 43.5,398.3 44.0,398.1 44.5,398.8 45.0,399.7 45.5,400.6 46.0,401.6 46.5,402.4 47.0,402.8 47.5,403.2 48.0,403.2 48.5,403.4 49.0,403.8 49.5,404.0 50.0,403.6 50.5,403.3 51.0,403.1 51.5,402.7 52.0,402.2 52.5,402.0 53.0,401.6 53.5,401.3 54.0,401.2 54.5,401.1 55.0,400.8 55.5,400.5 56.0,400.3 56.5,400.8 57.0,401.3 57.5,401.6 58.0,402.0 58.5,402.4 59.0,402.6 59.5,403.0 60.0,403.5 60.5,403.1 61.0,402.7 61.5,402.2 62.0,401.6 62.5,401.3 63.0,401.0 63.5,401.0 64.0,400.9 64.5,401.0 65.0,401.3 65.5,401.5 66.0,401.5 66.5,401.0 67.0,400.3 67.5,399.7 68.0,399.3 68.5,398.6 69.0,397.9 69.5,397.7 70.0,397.7 70.5,397.6 71.0,397.3 71.5,397.1 72.0,397.0 72.5,397.4 73.0,397.5 73.5,397.8 74.0,398.2 74.5,398.5 75.0,397.9 75.5,397.4 76.0,396.7 76.5,395.9 77.0,395.2 77.5,394.4 78.0,392.7 78.5,391.0 79.0,389.3 79.5,387.8 80.0,387.2 80.5,386.7 81.0,386.3 81.5,386.0 82.0,384.5 82.5,382.9 83.0,381.5 83.5,380.0 84.0,377.0 84.5,374.6 84.8,373.5 85.0,373.6 85.5,373.6 86.0,373.6 86.2,373.7 86.5,378.3 87.0,384.4 87.5,387.6 88.0,391.3 88.5,391.3 89.0,391.7 89.5,391.7 90.0,391.5 90.5,390.3 91.0,388.9 91.5,387.6 92.0,386.6 92.5,386.2 93.0,385.6 93.5,384.9 94.0,384.4 94.5,385.3 95.0,386.1 95.5,386.5 96.0,386.7 96.5,385.5 97.0,383.7 97.5,381.9 98.0,380.2 98.5,379.0 99.0,377.9 99.5,376.9 100.0,375.9 100.5,375.2 101.0,375.9 101.5,376.8 102.0,378.0 102.5,380.5 103.0,382.8 103.5,384.3 104.0,384.4 104.5,384.3 105.0,383.9 105.5,383.4 106.0,381.9 106.5,380.4 107.0,379.2 107.5,379.2 108.0,379.5 108.5,379.8 109.0,380.0 109.5,380.3 110.0,380.6 110.3,380.9 110.5,380.9 111.0,380.6 111.5,380.3 112.0,380.2 112.5,380.1 113.0,379.9 113.5,380.3 114.0,380.7 114.5,381.0 115.0,381.0 115.5,381.0 115.7,381.2 116.0,381.5 116.5,381.7 117.0,382.0 117.5,382.3 118.0,382.5 118.3,382.4 118.5,381.9 119.0,380.8 119.5,379.5 120.0,378.2 120.3,377.3 120.5,377.0 121.0,376.7 121.5,376.3 122.0,376.0 122.5,375.8 123.0,375.2 123.5,373.6 124.0,372.1 124.5,370.6 125.0,368.8 125.5,367.8 126.0,367.1 126.5,366.3 127.0,365.3 127.5,364.2 127.7,363.7 128.0,363.2 128.5,362.4 129.0,361.4 129.5,360.3 130.0,358.7 130.3,357.6 130.5,356.1 131.0,352.6 131.5,349.2 132.0,342.9 132.5,335.5 133.0,328.8 133.3,324.3 133.5,323.8 134.0,322.4 134.5,320.8 135.0,319.1 135.5,325.8 136.0,332.6 136.5,341.4 137.0,351.6 137.3,357.8 137.5,356.6 138.0,353.6 138.5,350.7 138.7,349.9 139.0,348.2 139.5,345.1 140.0,342.0 140.5,339.2 140.7,338.3 141.0,337.5 141.5,336.5 142.0,336.1 142.5,335.0 142.7,334.5 143.0,337.3 143.5,340.9 144.0,344.6 144.4,348.4 145.0,344.6 145.5,342.0 146.0,339.3 146.5,335.8 147.0,332.5 147.5,329.6 148.0,327.1 148.5,326.4 149.0,325.6 149.3,325.1 149.5,327.2 150.0,330.7 150.5,334.3 150.7,336.3 151.0,334.7 151.5,332.4 152.0,330.9 152.5,328.5 152.7,327.4 153.0,326.1 153.5,323.6 154.0,320.5 154.5,325.2 155.0,328.6 155.3,331.5 155.5,330.7 156.0,328.8 156.5,327.9 157.0,326.3 157.3,325.5 157.5,325.5 158.0,325.6 158.5,326.2 159.0,326.8 159.5,327.4 160.0,328.4 160.5,330.2 161.0,332.3 161.5,333.6 162.0,335.3 162.5,334.5 163.0,333.5 163.3,332.4 163.5,333.5 164.0,335.4 164.5,337.7 165.0,340.4 165.3,342.4 165.5,340.3 166.0,336.2 166.5,332.2 167.0,330.4 167.5,328.5 168.0,327.2 168.3,326.0 168.5,324.7 169.0,321.7 169.5,318.7 170.0,316.5 170.5,313.2 171.0,315.6 171.5,317.0 172.0,319.2 172.5,320.5 173.0,322.7 173.5,318.1 174.0,314.2 174.5,310.1 175.0,305.7 175.5,301.4 176.0,296.9 176.5,291.9 177.0,287.1 177.5,279.4 178.0,269.7 178.5,269.3 179.0,269.0 179.4,269.0 180.0,281.4 180.3,286.5 180.5,288.4 181.0,294.8 181.5,301.1 181.7,303.6 182.0,300.1 182.5,295.6 183.0,291.2 183.5,292.4 184.0,292.2 184.5,292.3 185.0,293.8 185.5,289.1 186.0,285.6 186.3,282.4 186.5,282.4 187.0,282.4 187.4,282.3 188.0,290.7 188.3,295.0 188.5,301.5 189.0,315.0 189.4,327.7 190.0,328.2 190.5,331.0 191.0,331.5 191.5,345.4 191.7,350.7 192.0,352.3 192.5,355.3 193.0,358.6 193.5,361.7 193.7,362.7 194.0,362.6 194.5,362.6 195.0,362.7 195.5,358.1 196.0,353.7 196.5,349.4 196.7,347.3 197.0,348.1 197.5,348.8 198.0,349.4 198.5,349.8 199.0,350.8 199.5,343.2 200.0,336.8 200.5,330.4 201.0,322.9 201.5,326.8 202.0,330.0 202.3,331.9 202.5,332.8 203.0,334.7 203.5,336.3 204.0,338.1 204.3,339.4 204.5,338.0 205.0,334.6 205.5,331.8 206.0,328.4 206.3,326.2 206.5,324.5 207.0,319.6 207.5,314.8 208.0,309.7 208.5,314.6 209.0,319.1 209.5,323.2 209.7,324.4 210.0,326.8 210.5,331.2 210.7,332.8 211.0,330.0 211.5,325.5 212.0,321.2 212.3,318.8 212.5,316.6 213.0,309.5 213.5,303.1 213.7,300.0 214.0,298.9 214.5,297.2 215.0,295.6 215.5,293.9 215.7,293.1 216.0,295.5 216.5,298.1 217.0,302.9 217.5,297.8 218.0,293.7 218.3,291.2 218.5,289.9 219.0,286.7 219.5,282.7 219.7,281.2 220.0,283.3 220.5,286.8 220.7,287.5 221.0,290.0 221.5,293.2 222.0,297.8 222.5,294.0 223.0,289.1 223.3,285.5 223.5,291.7 224.0,304.9 224.3,314.3 224.5,313.3 225.0,310.2 225.5,306.9 226.0,304.7 226.3,302.8 226.5,301.3 227.0,297.6 227.5,294.0 228.0,290.5 228.3,288.4 228.5,287.2 229.0,285.0 229.5,282.1 230.0,279.1 230.5,284.4 231.0,288.6 231.3,292.4 231.5,291.1 232.0,288.0 232.5,286.0 233.0,282.9 233.5,285.9 234.0,287.6 234.5,290.1 235.0,292.5 235.5,291.6 236.0,290.7 236.5,289.4 237.0,288.4 237.5,281.8 238.0,275.6 238.3,271.7 238.5,269.0 239.0,261.2 239.4,255.1 240.0,247.1 240.3,241.9 240.5,238.4 241.0,231.1 241.2,228.4 241.5,221.6 241.8,213.5 242.0,208.2 242.3,200.4 242.5,202.5 243.0,205.5 243.5,200.7 243.8,198.2 244.0,197.1 244.5,192.8 245.0,186.7 245.3,183.1 245.5,188.4 246.0,198.6 246.6,214.8 247.0,207.6 247.5,198.6 248.0,189.1 248.3,183.3 248.5,178.3 249.1,163.3 249.5,151.0 249.7,145.0 250.0,135.0 250.4,121.8 251.0,106.9 251.4,98.3 252.0,78.4 252.3,66.8 252.5,59.2 253.1,36.2 253.4,66.9 253.7,100.6 253.9,119.2 254.2,143.3 254.5,157.3 255.0,145.1 255.2,140.1 255.5,133.4 255.7,129.7 256.1,143.3 256.5,156.4 256.7,138.2 256.9,123.1 257.4,103.0 258.0,111.6 258.5,105.6 259.0,98.4 259.3,96.0 259.5,94.1 260.0,88.8 260.5,81.6 261.1,81.5 261.5,93.1 261.8,101.9 262.0,114.4 262.2,126.9 262.6,143.3 262.9,168.3 263.3,190.4 263.5,184.8 263.8,176.3 264.0,181.6 264.3,189.5 264.5,181.0 264.8,170.1 265.0,165.1 265.5,148.2 266.0,159.6 266.3,166.7 266.5,171.0 267.0,179.6 267.5,188.4 268.0,199.8 268.3,206.4 268.5,207.5 269.0,210.4 269.5,201.8 270.0,193.4 270.5,182.0 271.0,170.6 271.5,161.6 272.0,151.7 272.5,143.3 273.0,134.9 273.5,142.4 274.0,149.7 274.5,155.5 275.0,161.3 275.5,166.1 276.0,171.0 276.5,175.0 277.0,178.9 277.5,183.6 278.0,188.6 278.5,194.4 279.0,200.7 279.3,204.1 279.5,206.3 280.0,214.0 280.3,218.5 280.5,217.1 281.0,214.0 281.5,211.9 281.7,211.2 282.0,209.3 282.5,206.2 283.0,201.9 283.5,198.3 284.0,190.5 284.5,184.1 284.8,179.8 285.0,176.6 285.5,169.6 285.8,164.7 286.0,162.5 286.5,157.2 287.0,151.9 287.5,158.1 287.8,161.7 288.0,163.8 288.6,170.4 289.0,179.8 289.2,184.4 289.5,176.3 289.8,169.6 290.0,167.7 290.4,159.7 291.0,157.3 291.6,174.3 292.0,185.4 292.2,191.3 292.5,186.4 293.0,178.5 293.5,176.9 294.0,171.8 294.5,176.3 295.0,180.7 295.3,182.3 295.5,184.3 296.0,189.1 296.3,191.6 296.5,193.0 297.0,196.6 297.5,199.0 298.0,202.8 298.3,204.3 298.5,207.2 299.0,214.1 299.5,220.8 299.7,223.3 300.0,243.5 300.5,241.8 301.0,240.4 301.5,241.7 301.7,241.1 302.0,244.7 302.5,251.0 303.0,257.2 303.5,265.5 304.0,273.8 304.5,283.6 305.0,282.0 305.5,280.2 306.0,278.3 306.3,277.1 306.5,274.1 307.0,266.9 307.5,260.1 307.7,257.9 308.0,248.4 308.3,237.2 308.5,238.2 309.0,240.9 309.5,244.0 309.7,245.2 310.0,247.9 310.5,253.6 311.0,260.8 311.5,255.9 312.0,254.0 312.3,251.1 312.5,253.4 313.0,258.8 313.5,263.3 313.7,264.9 314.0,268.3 314.5,273.4 315.0,279.6 315.5,277.3 316.0,276.3 316.5,275.0 317.0,273.2 317.5,274.8 318.0,276.4 318.3,278.3 318.5,275.5 319.0,269.4 319.5,263.4 319.7,260.5 320.0,260.6 320.5,260.9 321.0,261.3 321.5,265.7 322.0,270.2 322.3,273.1 322.5,273.4 323.0,274.7 323.5,275.5 323.7,275.8 324.0,276.8 324.5,278.4 325.0,279.3 325.5,280.4 326.0,282.1 326.5,275.7 327.0,270.3 327.5,268.9 328.0,267.3 328.5,265.9 329.0,264.9 329.5,265.8 330.0,266.8 330.5,268.4 331.0,270.3 331.5,272.8 332.0,275.2 332.5,277.8 333.0,281.2 333.5,284.8 333.7,286.3 334.0,288.9 334.5,293.6 335.0,298.3 335.5,301.3 336.0,303.6 336.5,306.5 337.0,309.8 337.5,305.8 338.0,302.3 338.3,299.5 338.5,301.1 339.0,303.8 339.5,306.6 339.7,308.1 340.0,304.3 340.5,299.3 341.0,294.5 341.4,289.8 342.0,297.4 342.3,299.9 342.5,301.1 343.0,303.6 343.5,305.9 344.0,308.9 344.3,310.6 344.5,309.2 345.0,306.2 345.5,303.5 346.0,301.7 346.3,299.8 346.5,300.3 347.0,300.9 347.5,301.7 347.7,302.6 348.0,300.8 348.5,298.4 349.0,295.1 349.5,298.9 350.0,301.5 350.3,303.8 350.5,304.5 351.0,306.4 351.5,308.5 352.0,310.5 352.3,311.7 352.5,312.8 353.0,315.2 353.5,317.3 353.7,318.0 354.0,318.6 354.5,319.7 355.0,320.4 355.5,320.7 355.7,321.2 356.0,319.7 356.5,317.8 357.0,315.2 357.5,312.6 357.7,311.9 358.0,310.9 358.5,309.7 359.0,308.9 359.5,307.5 359.7,306.8 360.0,309.3 360.5,312.0 361.0,315.5 361.5,317.5 362.0,319.8 362.5,321.6 363.0,323.1 363.5,323.5 364.0,323.8 364.5,323.7 365.0,323.2 365.5,320.7 366.0,318.0 366.5,314.8 367.0,312.5 367.5,311.1 368.0,310.1 368.5,309.3 369.0,310.1 369.5,310.1 370.0,311.4 370.5,306.5 371.0,302.3 371.5,298.5 371.7,296.7 372.0,297.0 372.5,296.1 373.0,295.7 373.5,295.7 373.7,295.8 374.0,292.1 374.5,287.5 375.0,282.1 375.5,278.5 376.0,275.0 376.3,272.7 376.5,272.2 377.0,271.0 377.5,270.4 378.0,269.6 378.5,272.3 379.0,275.2 379.5,277.5 379.7,279.1 380.0,278.4 380.5,277.9 381.0,277.4 381.3,276.4 381.5,279.1 382.0,284.0 382.3,286.9 382.5,286.7 383.0,287.1 383.5,287.5 384.0,288.3 384.3,288.1 384.5,290.0 385.0,293.5 385.5,297.9 385.7,299.3 386.0,300.8 386.5,302.9 387.0,304.5 387.5,306.3 387.7,307.0 388.0,305.3 388.5,303.1 389.0,300.8 389.5,297.8 389.7,296.4 390.0,294.7 390.5,292.6 391.0,289.4 391.5,291.1 392.0,292.8 392.3,293.7 392.5,293.1 393.0,292.1 393.5,290.6 394.0,289.9 394.6,287.5 395.0,290.7 395.5,293.7 396.0,296.6 396.3,299.1 396.5,298.2 397.0,297.6 397.5,296.8 397.7,296.0 398.0,297.8 398.5,299.9 399.0,302.3 399.5,304.6 400.0,306.8 400.3,308.4 400.5,307.3 401.0,305.0 401.5,303.2 402.0,300.7 402.3,299.2 402.5,298.2 403.0,296.2 403.5,294.7 404.0,292.1 404.5,294.4 405.0,296.4 405.5,298.0 405.7,299.0 406.0,298.7 406.5,298.8 407.0,297.8 407.5,297.9 407.7,297.5 408.0,298.5 408.5,300.1 409.0,302.2 409.5,303.9 410.0,305.5 410.3,307.1 410.5,306.2 411.0,304.2 411.5,302.4 412.0,300.0 412.5,298.7 413.0,296.4 413.5,297.9 414.0,298.9 414.5,300.9 415.0,302.2 415.5,302.3 416.0,302.0 416.5,301.1 417.0,300.3 417.5,299.4 418.0,299.1 418.3,299.2 418.5,299.6 419.0,300.7 419.5,302.2 420.0,303.1 420.5,302.3 421.0,301.6 421.5,300.4 422.0,299.7 422.3,299.0 422.5,300.3 423.0,302.4 423.5,304.9 424.0,307.7 424.5,309.6 425.0,311.6 425.5,313.5 426.0,315.4 426.3,316.4 426.5,317.0 427.0,318.7 427.5,320.3 428.0,321.3 428.3,321.9 428.5,321.9 429.0,321.7 429.5,320.9 430.0,319.9 430.3,319.4 430.5,319.2 431.0,319.7 431.5,320.3 432.0,320.5 432.3,320.4 432.5,319.9 433.0,318.8 433.5,317.0 434.0,315.3 434.5,313.8 435.0,312.0 435.5,311.0 436.0,310.1 436.5,309.3 437.0,308.4 437.5,308.1 438.0,308.1 438.3,307.9 438.5,308.7 439.0,310.9 439.5,313.1 439.7,313.5 440.0,313.6 440.5,314.2 441.0,313.9 441.5,313.4 441.7,313.2 442.0,313.6 442.5,314.7 443.0,315.6 443.5,316.6 444.0,317.4 444.5,317.9 445.0,318.4 445.5,317.7 446.0,316.6 446.5,314.9 447.0,312.7 447.5,309.8 448.0,306.6 448.5,303.2 449.0,300.1 449.5,296.5 450.0,293.0 450.3,290.8 450.5,288.9 451.0,285.8 451.6,280.3 452.0,282.6 452.5,285.1 453.0,287.4 453.2,288.6 453.5,289.9 454.0,291.6 454.5,293.0 455.0,295.2 455.5,293.5 456.0,291.7 456.2,290.7 456.5,293.2 457.0,295.7 457.5,298.3 457.8,300.7 458.0,299.5 458.5,296.4 459.0,293.8 459.6,290.9 460.0,291.6 460.5,292.3 461.0,292.7 461.5,290.6 462.0,288.6 462.6,284.7 463.0,293.2 463.5,303.7 463.7,306.8 464.0,320.6 464.4,340.7 465.0,324.4 465.5,313.2 465.7,307.7 466.0,309.2 466.5,311.7 467.0,312.1 467.6,315.4 468.0,307.3 468.5,299.3 469.1,287.4 469.5,290.3 470.0,291.2 470.2,292.6 470.5,287.5 471.0,278.9 471.3,273.6 471.5,266.4 472.0,248.4 472.4,226.3 473.0,206.1 473.2,199.3 473.5,199.9 474.0,201.0 474.5,201.7 475.0,203.5 475.6,205.9 476.0,226.5 476.3,247.0 476.5,244.5 477.0,238.8 477.2,236.4 477.5,234.0 478.0,229.3 478.5,234.5 479.0,238.9 479.5,242.9 480.0,249.0 480.3,252.7 480.5,248.2 481.0,237.5 481.2,234.8 481.5,231.2 482.0,222.4 482.5,213.5 483.0,220.5 483.5,230.6 484.1,211.9 484.5,203.0 484.7,197.9 485.0,199.6 485.5,202.1 486.0,204.8 486.5,207.6 487.0,210.3 487.3,212.0 487.5,216.0 488.0,223.7 488.6,237.6 489.0,230.8 489.6,221.2 490.0,217.3 490.5,212.3 490.8,208.6 491.0,208.2 491.5,207.2 492.0,206.0 492.5,206.1 493.0,207.1 493.5,207.6 494.0,211.6 494.5,215.3 495.1,220.6 495.5,223.3 496.0,226.4 496.5,229.5 497.0,232.9 497.4,235.8 498.0,241.4 498.5,246.9 499.0,250.3 499.5,254.9 500.0,259.5 500.5,251.4 501.0,244.8 501.3,241.4 501.5,240.4 502.0,237.9 502.5,235.3 503.0,232.7 503.3,231.2 503.5,234.3 504.0,241.4 504.3,244.6 504.5,246.6 505.0,254.5 505.3,259.1 505.5,255.6 506.0,248.8 506.3,245.2 506.5,247.4 507.0,250.5 507.3,252.6 507.5,249.8 508.0,244.9 508.3,241.5 508.5,242.4 509.0,246.1 509.3,249.5 509.5,244.2 510.0,232.0 510.5,225.9 511.0,218.4 511.5,220.9 512.0,221.8 512.3,223.4 512.5,223.5 513.0,225.2 513.5,225.3 514.0,225.1 514.5,245.1 514.7,253.3 515.0,259.4 515.3,265.7 515.5,264.7 516.0,262.0 516.5,260.6 517.0,259.2 517.3,257.4 517.5,258.7 518.0,262.0 518.5,265.2 519.0,268.1 519.3,269.7 519.5,272.3 520.0,280.9 520.5,285.9 520.7,288.0 521.0,283.7 521.4,278.3 522.0,286.0 522.5,290.3 522.7,292.7 523.0,287.3 523.4,281.7 524.0,288.0 524.5,279.0 524.7,275.9 525.0,272.0 525.3,269.4 525.5,268.3 526.0,264.7 526.5,261.3 526.7,260.0 527.0,257.6 527.5,253.6 528.0,249.5 528.5,245.9 528.7,244.7 529.0,243.0 529.5,240.8 530.0,238.8 530.5,237.4 530.7,236.7 531.0,237.7 531.5,239.0 532.0,240.6 532.5,241.8 532.7,242.2 533.0,247.4 533.5,253.3 534.0,262.0 534.5,270.9 535.0,258.3 535.5,247.0 536.0,239.0 536.5,229.3 536.7,225.3 537.0,225.1 537.5,225.0 538.0,224.7 538.5,229.9 539.0,234.0 539.3,237.4 539.5,239.0 540.0,242.3 540.5,245.6 541.0,249.5 541.3,251.8 541.5,249.6 542.0,244.2 542.5,240.9 543.0,236.1 543.3,232.9 543.5,234.5 544.0,237.6 544.5,240.9 544.7,242.7 545.0,240.3 545.5,238.7 546.0,236.2 546.5,240.6 547.0,244.2 547.3,246.5 547.5,248.1 548.0,251.1 548.5,255.4 548.7,257.2 549.0,254.9 549.5,251.0 550.0,247.4 550.5,243.7 550.7,242.3 551.0,238.7 551.5,233.4 552.0,226.6 552.5,230.2 553.0,233.9 553.5,236.4 554.0,240.1 554.5,244.1 555.0,247.7 555.3,249.4 555.5,250.0 556.0,251.6 556.5,253.3 556.7,253.8 557.0,251.2 557.5,247.7 558.0,244.3 558.5,240.0 559.0,235.2 559.3,232.1 559.5,229.7 560.0,224.0 560.3,220.4 560.5,217.3 561.0,206.8 561.6,205.6 562.0,195.8 562.2,191.7 562.5,185.7 563.1,173.9 563.5,181.8 563.8,185.7 564.0,183.5 564.4,180.0 565.0,194.5 565.6,183.7 566.0,182.3 566.3,181.4 566.5,189.5 566.8,198.4 567.0,195.9 567.3,191.7 567.5,196.4 568.0,206.9 568.3,214.9 568.5,212.6 569.0,206.2 569.2,203.5 569.5,201.5 570.0,196.3 570.6,198.6 571.0,186.8 571.3,179.7 571.5,175.6 572.0,166.6 572.5,160.5 573.0,154.5 573.2,152.2 573.5,152.9 574.0,153.6 574.2,153.7 574.5,160.2 574.8,165.1 575.0,168.9 575.4,180.3 576.0,173.2 576.2,169.8 576.5,178.4 576.8,186.3 577.0,188.5 577.5,193.8 578.0,182.5 578.2,179.9 578.5,183.2 578.8,186.2 579.0,181.4 579.5,169.8 580.0,176.4 580.2,180.4 580.5,172.9 580.9,165.0 581.5,161.2 582.0,157.7 582.5,155.6 583.0,153.3 583.3,151.8 583.5,161.7 583.8,173.4 584.0,184.8 584.2,196.1 584.5,188.5 584.9,178.4 585.5,164.8 586.0,169.2 586.3,170.4 586.5,168.3 587.0,163.2 587.2,161.2 587.5,154.4 588.0,146.8 588.6,133.9 589.0,136.7 589.3,135.5 589.5,133.4 590.0,128.4 590.2,126.9 590.5,124.2 591.0,119.4 591.3,115.2 591.5,115.2 592.0,115.6 592.5,114.7 593.0,114.8 593.5,115.6 594.0,116.3"/>
<polyline points="-2.0,398.8 -1.5,399.0 -1.0,399.2 -0.5,399.2 0.0,399.2 0.5,399.1 1.0,399.2 1.5,399.2 2.0,399.2 2.5,399.9 3.0,400.0 3.5,400.0 4.0,400.5 4.5,401.3 5.0,402.2 5.5,402.5 6.0,402.4 6.5,402.3 7.0,402.6 7.5,402.5 8.0,401.2 8.5,400.9 9.0,401.4 9.5,400.9 10.0,401.3 10.5,402.4 11.0,403.3 11.5,403.4 12.0,403.2 12.5,403.2 13.0,403.5 13.5,403.9 14.0,404.1 14.5,403.7 15.0,403.7 15.5,403.5 16.0,402.9 16.5,403.0 17.0,403.7 17.5,404.4 18.0,404.6 18.5,404.3 19.0,404.4 19.5,404.7 20.0,404.9 20.5,405.1 21.0,405.4 21.5,405.6 22.0,404.2 22.5,403.5 23.0,403.4 23.5,402.6 24.0,401.9 24.5,402.4 25.0,403.1 25.5,403.7 26.0,404.0 26.5,404.5 27.0,404.9 27.5,405.1 28.0,405.4 28.5,405.8 29.0,406.4 29.5,406.0 30.0,405.0 30.5,404.3 31.0,404.3 31.5,404.1 32.0,404.2 32.5,404.3 33.0,404.0 33.5,403.5 34.0,403.7 34.5,403.8 35.0,403.5 35.5,404.0 36.0,404.4 36.5,403.7 37.0,402.5 37.5,401.9 38.0,401.7 38.5,401.5 39.0,401.9 39.5,402.0 40.0,401.6 40.5,401.1 41.0,400.5 41.5,400.2 42.0,399.8 42.5,399.6 43.0,399.7 43.5,399.3 44.0,398.8 44.5,398.9 45.0,399.8 45.5,401.7 46.0,403.1 46.5,403.6 47.0,403.2 47.5,402.8 48.0,403.2 48.5,404.4 49.0,404.8 49.5,404.5 50.0,404.2 50.5,403.9 51.0,403.4 51.5,403.0 52.0,402.4 52.5,401.6 53.0,401.2 53.5,401.2 54.0,401.3 54.5,401.6 55.0,402.1 55.5,402.1 56.0,401.4 56.5,401.4 57.0,401.7 57.5,402.0 58.0,402.5 58.5,403.4 59.0,404.0 59.5,404.0 60.0,403.9 60.5,403.3 61.0,403.0 61.5,403.0 62.0,402.9 62.5,402.5 63.0,401.6 63.5,401.5 64.0,402.0 64.5,402.4 65.0,402.4 65.5,401.8 66.0,401.7 66.5,401.3 67.0,400.2 67.5,399.5 68.0,399.7 68.5,399.2 69.0,398.0 69.5,397.6 70.0,398.1 70.5,398.7 71.0,398.5 71.5,397.6 72.0,397.3 72.5,398.1 73.0,398.5 73.5,398.1 74.0,397.9 74.5,398.3 75.0,397.8 75.5,397.3 76.0,396.3 76.5,395.9 77.0,396.1 77.5,395.1 78.0,392.8 78.5,391.3 79.0,389.4 79.5,387.9 80.0,387.8 80.5,387.9 81.0,387.5 81.5,386.1 82.0,384.1 82.5,382.7 83.0,381.4 83.5,380.0 84.0,377.3 84.5,375.5 84.8,374.8 85.0,374.9 85.5,374.4 86.0,374.4 86.2,375.0 86.5,379.7 87.0,385.5 87.5,388.0 88.0,390.8 88.5,391.0 89.0,391.7 89.5,392.2 90.0,391.9 90.5,390.5 91.0,389.8 91.5,388.6 92.0,387.0 92.5,386.4 93.0,386.1 93.5,385.7 94.0,385.5 94.5,386.4 95.0,386.9 95.5,387.2 96.0,387.6 96.5,386.0 97.0,384.0 97.5,382.7 98.0,381.1 98.5,379.7 99.0,378.1 99.5,376.5 100.0,375.3 100.5,375.4 101.0,376.7 101.5,377.2 102.0,378.2 102.5,381.2 103.0,384.0 103.5,385.7 104.0,385.0 104.5,384.2 105.0,384.3 105.5,384.4 106.0,382.2 106.5,380.5 107.0,380.3 107.5,380.7 108.0,380.4 108.5,380.2 109.0,380.4 109.5,380.3 110.0,380.2 110.3,380.3 110.5,380.8 111.0,381.5 111.5,381.6 112.0,381.3 112.5,380.7 113.0,380.0 113.5,379.9 114.0,380.7 114.5,381.6 115.0,381.5 115.5,381.0 115.7,381.2 116.0,381.6 116.5,381.6 117.0,381.8 117.5,382.8 118.0,383.3 118.3,382.8 118.5,382.5 119.0,381.7 119.5,380.4 120.0,379.0 120.3,378.4 120.5,378.0 121.0,377.0 121.5,376.5 122.0,375.9 122.5,375.2 123.0,374.7 123.5,373.7 124.0,372.6 124.5,370.4 125.0,368.3 125.5,367.9 126.0,367.7 126.5,366.9 127.0,366.0 127.5,365.0 127.7,364.6 128.0,364.2 128.5,363.0 129.0,361.5 129.5,360.8 130.0,360.0 130.3,359.0 130.5,357.1 131.0,353.3 131.5,349.4 132.0,342.5 132.5,335.5 133.0,329.7 133.3,325.7 133.5,325.2 134.0,323.5 134.5,321.8 135.0,320.0 135.5,326.3 136.0,333.2 136.5,342.6 137.0,353.1 137.3,359.1 137.5,357.2 138.0,353.3 138.5,350.7 138.7,350.5 139.0,348.5 139.5,345.6 140.0,342.9 140.5,340.1 140.7,339.1 141.0,338.2 141.5,337.5 142.0,336.9 142.5,335.2 142.7,334.6 143.0,337.6 143.5,341.7 144.0,345.7 144.4,349.1 145.0,345.0 145.5,342.2 146.0,339.5 146.5,336.6 147.0,333.7 147.5,330.8 148.0,328.3 148.5,327.6 149.0,326.5 149.3,325.6 149.5,327.5 150.0,331.2 150.5,334.3 150.7,336.0 151.0,335.1 151.5,333.3 152.0,331.6 152.5,329.0 152.7,328.6 153.0,326.9 153.5,323.6 154.0,320.6 154.5,326.1 155.0,329.9 155.3,333.1 155.5,331.9 156.0,329.0 156.5,327.6 157.0,326.3 157.3,325.8 157.5,326.5 158.0,326.9 158.5,327.0 159.0,327.4 159.5,327.7 160.0,328.2 160.5,330.2 161.0,333.3 161.5,335.0 162.0,336.1 162.5,334.9 163.0,334.1 163.3,333.1 163.5,334.5 164.0,336.5 164.5,338.4 165.0,340.9 165.3,342.5 165.5,340.2 166.0,336.3 166.5,333.0 167.0,331.3 167.5,328.8 168.0,326.9 168.3,326.1 168.5,325.5 169.0,322.2 169.5,318.7 170.0,316.7 170.5,314.0 171.0,316.6 171.5,317.8 172.0,319.6 172.5,321.0 173.0,323.8 173.5,319.1 174.0,314.7 174.5,310.3 175.0,306.0 175.5,302.4 176.0,298.2 176.5,292.6 177.0,287.8 177.5,280.2 178.0,270.1 178.5,269.6 179.0,269.9 179.4,270.1 180.0,282.6 180.3,287.1 180.5,288.8 181.0,295.9 181.5,302.5 181.7,304.2 182.0,300.5 182.5,296.3 183.0,292.1 183.5,293.5 184.0,293.6 184.5,293.9 185.0,294.7 185.5,289.7 186.0,286.7 186.3,283.9 186.5,283.7 187.0,283.7 187.4,283.4 188.0,291.2 188.3,295.3 188.5,301.5 189.0,315.4 189.4,328.8 190.0,329.2 190.5,331.2 191.0,331.5 191.5,345.4 191.7,350.7 192.0,352.9 192.5,356.4 193.0,359.2 193.5,362.3 193.7,363.8 194.0,363.3 194.5,362.9 195.0,363.0 195.5,358.8 196.0,354.5 196.5,349.4 196.7,347.4 197.0,348.5 197.5,348.7 198.0,349.4 198.5,350.0 199.0,350.7 199.5,343.1 200.0,336.9 200.5,330.9 201.0,323.8 201.5,327.5 202.0,329.9 202.3,331.9 202.5,333.6 203.0,335.6 203.5,336.4 204.0,337.6 204.3,339.3 204.5,338.4 205.0,334.6 205.5,331.4 206.0,328.2 206.3,326.5 206.5,324.8 207.0,319.8 207.5,315.6 208.0,310.9 208.5,315.5 209.0,319.7 209.5,323.9 209.7,325.0 210.0,327.3 210.5,331.7 210.7,332.8 211.0,330.3 211.5,326.5 212.0,321.6 212.3,318.3 212.5,316.6 213.0,310.3 213.5,303.8 213.7,300.9 214.0,299.9 214.5,297.4 215.0,295.8 215.5,294.4 215.7,293.4 216.0,295.8 216.5,299.1 217.0,304.1 217.5,298.4 218.0,293.5 218.3,290.8 218.5,290.0 219.0,287.7 219.5,284.0 219.7,281.8 220.0,283.5 220.5,287.2 220.7,287.5 221.0,289.5 221.5,293.4 222.0,298.9 222.5,294.7 223.0,289.4 223.3,286.5 223.5,292.5 224.0,305.4 224.3,315.2 224.5,314.2 225.0,310.9 225.5,307.4 226.0,304.9 226.3,303.0 226.5,302.1 227.0,298.6 227.5,294.9 228.0,291.3 228.3,289.4 228.5,288.6 229.0,286.6 229.5,283.4 230.0,279.8 230.5,285.3 231.0,290.3 231.3,293.7 231.5,292.0 232.0,288.8 232.5,286.8 233.0,283.7 233.5,286.6 234.0,287.8 234.5,289.9 235.0,292.3 235.5,291.9 236.0,291.5 236.5,290.4 237.0,289.3 237.5,281.9 238.0,275.3 238.3,272.3 238.5,270.1 239.0,262.1 239.4,255.4 240.0,247.3 240.3,242.2 240.5,238.8 241.0,231.6 241.2,229.2 241.5,223.0 241.8,214.9 242.0,209.2 242.3,201.4 242.5,203.0 243.0,205.3 243.5,200.9 243.8,199.5 244.0,198.7 244.5,193.9 245.0,187.6 245.3,184.3 245.5,189.7 246.0,200.0 246.6,216.2 247.0,208.4 247.5,198.7 248.0,189.2 248.3,184.1 248.5,179.7 249.1,164.5 249.5,151.6 249.7,145.7 250.0,136.5 250.4,123.4 251.0,107.7 251.4,99.0 252.0,80.2 252.3,68.9 252.5,60.5 253.1,36.9 253.4,67.5 253.7,101.1 253.9,119.6 254.2,143.9 254.5,158.2 255.0,146.0 255.2,140.8 255.5,134.4 255.7,130.9 256.1,144.0 256.5,157.1 256.7,139.2 256.9,123.5 257.4,103.1 258.0,112.3 258.5,106.5 259.0,98.9 259.3,96.4 259.5,94.7 260.0,89.4 260.5,82.8 261.1,83.5 261.5,95.1 261.8,103.4 262.0,115.4 262.2,127.5 262.6,143.9 262.9,169.2 263.3,191.5 263.5,185.9 263.8,177.6 264.0,182.9 264.3,190.7 264.5,182.5 264.8,171.2 265.0,166.0 265.5,149.8 266.0,161.0 266.3,167.1 266.5,171.4 267.0,180.9 267.5,189.7 268.0,201.0 268.3,207.8 268.5,208.7 269.0,211.4 269.5,202.6 270.0,193.8 270.5,182.2 271.0,170.8 271.5,161.8 272.0,152.0 272.5,144.2 273.0,136.1 273.5,143.2 274.0,150.4 274.5,156.1 275.0,161.7 275.5,166.3 276.0,171.2 276.5,175.5 277.0,179.6 277.5,184.0 278.0,189.0 278.5,195.2 279.0,201.9 279.3,205.5 279.5,207.9 280.0,215.4 280.3,219.6 280.5,218.4 281.0,215.3 281.5,213.3 281.7,212.3 282.0,209.9 282.5,206.8 283.0,202.3 283.5,198.5 284.0,190.8 284.5,184.7 284.8,180.8 285.0,177.2 285.5,170.3 285.8,165.7 286.0,163.5 286.5,158.5 287.0,153.1 287.5,158.9 287.8,162.9 288.0,165.3 288.6,172.0 289.0,181.6 289.2,186.1 289.5,177.4 289.8,170.1 290.0,168.0 290.4,160.4 291.0,158.6 291.6,175.5 292.0,186.1 292.2,191.9 292.5,187.3 293.0,179.8 293.5,178.2 294.0,172.2 294.5,176.7 295.0,181.9 295.3,183.4 295.5,185.3 296.0,190.8 296.3,193.1 296.5,193.7 297.0,197.2 297.5,200.7 298.0,204.8 298.3,205.7 298.5,208.2 299.0,214.9 299.5,221.0 299.7,223.3 300.0,243.5 300.5,241.9 301.0,240.5 301.5,242.3 301.7,242.5 302.0,246.2 302.5,251.5 303.0,257.3 303.5,266.2 304.0,275.1 304.5,285.0 305.0,283.1 305.5,281.1 306.0,278.7 306.3,277.3 306.5,274.7 307.0,268.5 307.5,262.0 307.7,259.5 308.0,249.8 308.3,238.6 308.5,240.0 309.0,242.7 309.5,245.0 309.7,246.1 310.0,248.8 310.5,254.2 311.0,261.1 311.5,256.2 312.0,254.7 312.3,252.4 312.5,254.5 313.0,259.6 313.5,263.5 313.7,264.7 314.0,268.7 314.5,274.3 315.0,280.1 315.5,277.7 316.0,277.2 316.5,275.7 317.0,273.4 317.5,275.2 318.0,276.9 318.3,278.9 318.5,276.5 319.0,270.6 319.5,264.0 319.7,260.8 320.0,261.6 320.5,262.6 321.0,262.7 321.5,266.6 322.0,271.0 322.3,273.3 322.5,273.4 323.0,275.6 323.5,276.7 323.7,276.8 324.0,277.6 324.5,279.3 325.0,280.4 325.5,281.6 326.0,283.5 326.5,277.2 327.0,271.1 327.5,269.3 328.0,268.3 328.5,267.1 329.0,265.9 329.5,266.7 330.0,267.6 330.5,269.7 331.0,272.1 331.5,274.2 332.0,276.2 332.5,279.3 333.0,283.1 333.5,286.4 333.7,287.3 334.0,289.6 334.5,294.6 335.0,299.1 335.5,301.8 336.0,304.5 336.5,307.9 337.0,311.0 337.5,306.7 338.0,303.6 338.3,301.1 338.5,302.2 339.0,303.9 339.5,306.3 339.7,308.1 340.0,304.5 340.5,299.3 341.0,294.7 341.4,290.4 342.0,297.8 342.3,299.8 342.5,300.9 343.0,303.9 343.5,306.8 344.0,310.0 344.3,311.9 344.5,310.8 345.0,307.6 345.5,304.2 346.0,302.0 346.3,299.8 346.5,300.2 347.0,301.2 347.5,302.2 347.7,302.8 348.0,301.0 348.5,298.9 349.0,295.7 349.5,299.2 350.0,301.7 350.3,304.5 350.5,305.1 351.0,306.7 351.5,308.5 352.0,310.6 352.3,311.8 352.5,312.4 353.0,314.8 353.5,317.7 353.7,319.0 354.0,320.3 354.5,321.1 355.0,320.8 355.5,321.1 355.7,321.3 356.0,319.9 356.5,318.6 357.0,316.0 357.5,313.1 357.7,312.1 358.0,311.1 358.5,310.1 359.0,309.6 359.5,308.7 359.7,308.2 360.0,310.7 360.5,313.1 361.0,316.2 361.5,318.4 362.0,320.4 362.5,322.2 363.0,324.0 363.5,324.8 364.0,324.8 364.5,324.1 365.0,323.9 365.5,321.6 366.0,318.4 366.5,315.2 367.0,313.1 367.5,311.6 368.0,310.8 368.5,310.2 369.0,311.0 369.5,311.6 370.0,312.7 370.5,307.2 371.0,303.5 371.5,300.0 371.7,297.8 372.0,297.6 372.5,296.3 373.0,296.1 373.5,296.4 373.7,296.6 374.0,293.1 374.5,288.7 375.0,283.4 375.5,279.9 376.0,276.3 376.3,273.4 376.5,272.5 377.0,270.9 377.5,270.5 378.0,270.6 378.5,273.5 379.0,276.4 379.5,278.2 379.7,279.0 380.0,278.5 380.5,278.9 381.0,278.4 381.3,276.6 381.5,279.0 382.0,284.1 382.3,287.4 382.5,287.6 383.0,288.0 383.5,288.4 384.0,288.5 384.3,288.3 384.5,291.2 385.0,295.1 385.5,299.1 385.7,300.0 386.0,301.3 386.5,303.2 387.0,305.0 387.5,306.7 387.7,307.4 388.0,306.3 388.5,304.1 389.0,301.2 389.5,298.2 389.7,296.8 390.0,295.7 390.5,293.9 391.0,290.7 391.5,292.7 392.0,294.5 392.3,294.9 392.5,294.2 393.0,293.1 393.5,291.3 394.0,290.8 394.6,288.8 395.0,292.0 395.5,294.6 396.0,297.4 396.3,300.2 396.5,299.3 397.0,298.0 397.5,297.3 397.7,296.7 398.0,298.2 398.5,300.2 399.0,303.0 399.5,305.8 400.0,308.0 400.3,309.4 400.5,308.2 401.0,305.6 401.5,303.4 402.0,301.0 402.3,299.8 402.5,299.2 403.0,297.2 403.5,295.5 404.0,292.9 404.5,295.4 405.0,297.9 405.5,299.6 405.7,299.8 406.0,298.9 406.5,299.3 407.0,298.7 407.5,298.8 407.7,298.9 408.0,299.7 408.5,300.6 409.0,303.1 409.5,305.6 410.0,307.0 410.3,307.3 410.5,306.1 411.0,304.6 411.5,303.0 412.0,300.7 412.5,299.4 413.0,297.0 413.5,299.0 414.0,300.1 414.5,301.1 415.0,302.2 415.5,302.6 416.0,302.0 416.5,301.4 417.0,301.2 417.5,300.3 418.0,300.1 418.3,300.4 418.5,300.3 419.0,301.0 419.5,302.8 420.0,304.2 420.5,303.8 421.0,302.7 421.5,300.9 422.0,300.6 422.3,300.1 422.5,300.6 423.0,302.5 423.5,305.7 424.0,309.0 424.5,310.6 425.0,312.1 425.5,313.7 426.0,315.3 426.3,316.7 426.5,317.8 427.0,319.6 427.5,321.1 428.0,322.6 428.3,323.0 428.5,322.3 429.0,322.0 429.5,321.1 430.0,319.9 430.3,319.6 430.5,320.3 431.0,321.1 431.5,321.3 432.0,321.7 432.3,321.7 432.5,320.8 433.0,319.0 433.5,317.5 434.0,316.3 434.5,314.6 435.0,312.8 435.5,312.1 436.0,311.3 436.5,310.3 437.0,309.8 437.5,309.8 438.0,309.4 438.3,308.6 438.5,309.0 439.0,311.4 439.5,314.0 439.7,314.5 440.0,314.1 440.5,314.3 441.0,314.1 441.5,314.4 441.7,314.5 442.0,314.6 442.5,315.7 443.0,316.4 443.5,316.7 444.0,317.3 444.5,318.5 445.0,319.6 445.5,318.9 446.0,317.3 446.5,315.2 447.0,313.6 447.5,311.1 448.0,308.1 448.5,304.7 449.0,301.0 449.5,297.7 450.0,294.0 450.3,291.0 450.5,288.9 451.0,286.0 451.6,280.8 452.0,283.4 452.5,286.1 453.0,288.0 453.2,289.0 453.5,290.6 454.0,292.0 454.5,293.4 455.0,296.2 455.5,294.1 456.0,292.1 456.2,290.9 456.5,293.4 457.0,296.2 457.5,298.9 457.8,301.5 458.0,300.3 458.5,297.7 459.0,295.5 459.6,292.4 460.0,292.7 460.5,293.2 461.0,293.2 461.5,291.1 462.0,289.2 462.6,285.3 463.0,293.8 463.5,304.3 463.7,307.3 464.0,321.0 464.4,341.3 465.0,325.2 465.5,313.6 465.7,307.8 466.0,309.6 466.5,312.3 467.0,312.4 467.6,315.8 468.0,307.6 468.5,299.6 469.1,288.3 469.5,291.1 470.0,291.8 470.2,293.1 470.5,288.1 471.0,279.8 471.3,274.4 471.5,267.0 472.0,249.2 472.4,227.3 473.0,207.5 473.2,200.7 473.5,200.3 474.0,200.7 474.5,201.9 475.0,203.9 475.6,206.2 476.0,226.9 476.3,247.5 476.5,244.9 477.0,239.2 477.2,237.1 477.5,235.0 478.0,230.2 478.5,234.9 479.0,239.5 479.5,244.2 480.0,250.5 480.3,254.1 480.5,249.8 481.0,239.1 481.2,236.4 481.5,232.5 482.0,222.9 482.5,213.7 483.0,220.6 483.5,230.7 484.1,212.6 484.5,204.3 484.7,199.0 485.0,200.6 485.5,203.5 486.0,206.3 486.5,209.0 487.0,211.4 487.3,212.5 487.5,216.3 488.0,224.1 488.6,237.7 489.0,230.6 489.6,221.5 490.0,218.5 490.5,214.0 490.8,210.1 491.0,209.2 491.5,207.7 492.0,206.6 492.5,207.0 493.0,207.9 493.5,208.5 494.0,212.8 494.5,216.3 495.1,221.6 495.5,224.6 496.0,227.6 496.5,230.2 497.0,233.9 497.4,237.5 498.0,242.7 498.5,247.1 499.0,250.5 499.5,255.6 500.0,260.1 500.5,251.6 501.0,245.0 501.3,242.4 501.5,241.9 502.0,238.9 502.5,235.7 503.0,233.3 503.3,232.7 503.5,235.6 504.0,242.2 504.3,245.8 504.5,247.8 505.0,255.0 505.3,259.6 505.5,256.2 506.0,249.6 506.3,246.4 506.5,248.6 507.0,250.9 507.3,253.1 507.5,250.8 508.0,245.4 508.3,242.0 508.5,243.6 509.0,247.5 509.3,251.2 509.5,245.6 510.0,232.9 510.5,226.7 511.0,219.1 511.5,221.5 512.0,222.7 512.3,224.7 512.5,224.7 513.0,225.7 513.5,225.5 514.0,225.4 514.5,245.2 514.7,253.9 515.0,260.6 515.3,266.5 515.5,265.1 516.0,262.3 516.5,260.8 517.0,259.5 517.3,258.1 517.5,259.4 518.0,262.2 518.5,265.2 519.0,268.4 519.3,269.7 519.5,272.4 520.0,281.8 520.5,286.9 520.7,288.6 521.0,284.5 521.4,279.0 522.0,286.2 522.5,290.3 522.7,293.0 523.0,287.8 523.4,281.6 524.0,287.9 524.5,279.8 524.7,276.9 525.0,272.5 525.3,270.0 525.5,269.2 526.0,265.5 526.5,262.4 526.7,260.9 527.0,257.8 527.5,253.8 528.0,249.9 528.5,246.6 528.7,246.0 529.0,244.8 529.5,242.5 530.0,240.5 530.5,238.3 530.7,237.2 531.0,238.8 531.5,240.2 532.0,241.1 532.5,242.5 532.7,243.5 533.0,248.2 533.5,253.5 534.0,262.4 534.5,271.7 535.0,259.1 535.5,247.3 536.0,239.0 536.5,229.8 536.7,226.0 537.0,225.3 537.5,225.3 538.0,225.8 538.5,230.8 539.0,234.4 539.3,238.2 539.5,240.2 540.0,243.6 540.5,246.5 541.0,250.0 541.3,252.3 541.5,250.1 542.0,244.7 542.5,241.6 543.0,237.4 543.3,234.4 543.5,235.8 544.0,238.9 544.5,242.3 544.7,243.9 545.0,241.2 545.5,239.4 546.0,237.2 546.5,242.1 547.0,246.1 547.3,248.5 547.5,249.9 548.0,252.7 548.5,256.8 548.7,258.2 549.0,255.6 549.5,251.6 550.0,247.7 550.5,244.1 550.7,243.2 551.0,239.7 551.5,234.3 552.0,227.5 552.5,231.4 553.0,235.1 553.5,237.8 554.0,241.4 554.5,244.6 555.0,248.1 555.3,250.3 555.5,250.6 556.0,252.0 556.5,253.5 556.7,254.0 557.0,251.4 557.5,248.0 558.0,245.1 558.5,240.8 559.0,235.7 559.3,233.1 559.5,230.9 560.0,224.9 560.3,221.5 560.5,218.3 561.0,207.0 561.6,205.4 562.0,196.2 562.2,192.8 562.5,187.0 563.1,175.2 563.5,183.0 563.8,186.9 564.0,184.3 564.4,180.5 565.0,195.3 565.6,184.7 566.0,183.1 566.3,181.6 566.5,189.3 566.8,198.6 567.0,197.1 567.3,193.5 567.5,198.2 568.0,208.6 568.3,216.6 568.5,213.8 569.0,207.4 569.2,205.1 569.5,202.5 570.0,196.7 570.6,199.2 571.0,187.9 571.3,181.3 571.5,177.2 572.0,168.5 572.5,162.4 573.0,155.8 573.2,153.3 573.5,154.0 574.0,154.6 574.2,155.2 574.5,161.8 574.8,165.6 575.0,169.0 575.4,180.3 576.0,173.3 576.2,169.9 576.5,178.9 576.8,187.4 577.0,189.1 577.5,194.1 578.0,183.2 578.2,180.6 578.5,183.6 578.8,187.1 579.0,182.5 579.5,170.4 580.0,177.1 580.2,181.7 580.5,174.7 580.9,166.6 581.5,161.8 582.0,157.6 582.5,155.9 583.0,154.5 583.3,153.2 583.5,162.6 583.8,174.1 584.0,185.2 584.2,196.5 584.5,189.3 584.9,179.4 585.5,165.9 586.0,170.4 586.3,172.0 586.5,170.4 587.0,165.0 587.2,162.7 587.5,156.1 588.0,148.3 588.6,134.8 589.0,137.4 589.3,136.8 589.5,135.0 590.0,129.8 590.2,127.4 590.5,124.1 591.0,119.7 591.3,116.7 591.5,117.2 592.0,117.3 592.5,116.2 593.0,116.6 593.5,117.2 594.0,117.3"/>
<polyline points="-2.0,399.2 -1.5,399.1 -1.0,399.3 -0.5,399.4 0.0,399.2 0.5,398.8 1.0,398.8 1.5,399.1 2.0,399.1 2.5,399.8 3.0,400.8 3.5,401.7 4.0,402.5 4.5,402.5 5.0,402.6 5.5,402.8 6.0,402.2 6.5,402.1 7.0,402.8 7.5,403.0 8.0,402.4 8.5,402.3 9.0,402.3 9.5,401.7 10.0,402.2 10.5,403.1 11.0,403.4 11.5,403.0 12.0,403.0 12.5,403.7 13.0,404.5 13.5,404.6 14.0,404.2 14.5,404.3 15.0,404.8 15.5,404.9 16.0,404.3 16.5,403.9 17.0,404.1 17.5,404.6 18.0,404.7 18.5,404.8 19.0,405.6 19.5,405.7 20.0,404.8 20.5,404.4 21.0,405.1 21.5,405.8 22.0,404.7 22.5,404.0 23.0,404.2 23.5,403.6 24.0,402.3 24.5,402.8 25.0,403.9 25.5,404.3 26.0,404.5 26.5,405.1 27.0,406.1 27.5,406.6 28.0,406.6 28.5,407.0 29.0,407.3 29.5,406.4 30.0,405.8 30.5,405.4 31.0,404.8 31.5,404.0 32.0,403.8 32.5,403.4 33.0,403.8 33.5,404.0 34.0,404.2 34.5,405.1 35.0,405.1 35.5,404.6 36.0,404.0 36.5,403.4 37.0,403.2 37.5,402.6 38.0,402.0 38.5,402.2 39.0,402.2 39.5,401.6 40.0,401.5 40.5,401.5 41.0,400.9 41.5,400.2 42.0,399.5 42.5,399.0 43.0,399.2 43.5,399.5 44.0,399.3 44.5,400.3 45.0,401.0 45.5,401.5 46.0,402.1 46.5,403.0 47.0,403.5 47.5,404.0 48.0,404.4 48.5,404.7 49.0,404.1 49.5,404.0 50.0,404.5 50.5,404.4 51.0,403.6 51.5,403.6 52.0,403.9 52.5,403.6 53.0,403.1 53.5,402.5 54.0,401.8 54.5,401.3 55.0,401.5 55.5,402.0 56.0,402.1 56.5,402.1 57.0,401.9 57.5,401.9 58.0,402.3 58.5,402.8 59.0,403.2 59.5,403.8 60.0,404.8 60.5,404.9 61.0,404.5 61.5,403.4 62.0,402.5 62.5,402.4 63.0,402.1 63.5,402.2 64.0,402.5 64.5,402.5 65.0,402.8 65.5,402.9 66.0,402.6 66.5,402.0 67.0,401.5 67.5,400.6 68.0,400.0 68.5,399.9 69.0,399.5 69.5,399.2 70.0,398.5 70.5,398.0 71.0,398.4 71.5,398.8 72.0,398.5 72.5,398.4 73.0,398.6 73.5,399.4 74.0,400.2 74.5,400.1 75.0,398.7 75.5,397.8 76.0,397.5 76.5,396.8 77.0,395.5 77.5,394.9 78.0,394.2 78.5,392.7 79.0,390.1 79.5,388.1 80.0,387.9 80.5,387.8 81.0,387.4 81.5,386.7 82.0,385.3 82.5,384.3 83.0,382.8 83.5,380.8 84.0,378.1 84.5,376.2 84.8,374.6 85.0,374.1 85.5,374.5 86.0,374.8 86.2,374.8 86.5,379.9 87.0,386.0 87.5,388.3 88.0,391.7 88.5,392.1 89.0,392.4 89.5,392.7 90.0,392.6 90.5,391.1 91.0,389.9 91.5,388.7 92.0,387.8 92.5,387.4 93.0,386.9 93.5,386.9 94.0,386.3 94.5,385.9 95.0,386.5 95.5,387.6 96.0,387.7 96.5,386.5 97.0,385.4 97.5,383.6 98.0,381.7 98.5,380.9 99.0,379.6 99.5,378.0 100.0,377.2 100.5,376.4 101.0,376.6 101.5,377.6 102.0,379.1 102.5,382.0 103.0,384.2 103.5,385.1 104.0,384.7 104.5,384.3 105.0,383.9 105.5,383.7 106.0,382.7 106.5,382.1 107.0,381.2 107.5,380.1 108.0,379.7 108.5,380.3 109.0,381.1 109.5,381.4 110.0,381.6 110.3,381.6 110.5,381.3 111.0,381.4 111.5,381.6 112.0,381.0 112.5,380.6 113.0,381.1 113.5,381.5 114.0,381.6 114.5,381.9 115.0,382.0 115.5,382.6 115.7,382.4 116.0,381.9 116.5,382.4 117.0,383.4 117.5,384.0 118.0,384.1 118.3,384.0 118.5,383.3 119.0,381.3 119.5,379.8 120.0,379.0 120.3,378.4 120.5,377.9 121.0,377.3 121.5,377.6 122.0,377.9 122.5,377.0 123.0,375.8 123.5,374.7 124.0,373.7 124.5,372.0 125.0,369.8 125.5,368.9 126.0,368.1 126.5,366.7 127.0,365.8 127.5,365.5 127.7,365.1 128.0,364.4 128.5,363.3 129.0,362.2 129.5,361.6 130.0,360.0 130.3,359.2 130.5,357.8 131.0,353.7 131.5,350.1 132.0,343.9 132.5,336.5 133.0,330.1 133.3,326.0 133.5,325.8 134.0,324.2 134.5,322.1 135.0,320.5 135.5,327.0 136.0,333.2 136.5,341.8 137.0,352.0 137.3,358.4 137.5,357.1 138.0,354.1 138.5,351.5 138.7,350.3 139.0,348.7 139.5,346.7 140.0,344.0 140.5,340.9 140.7,339.5 141.0,338.7 141.5,337.6 142.0,336.7 142.5,335.4 142.7,335.1 143.0,338.3 143.5,342.7 144.0,346.6 144.4,349.6 145.0,345.1 145.5,343.0 146.0,341.0 146.5,337.9 147.0,334.4 147.5,331.1 148.0,328.3 148.5,327.6 149.0,327.5 149.3,327.4 149.5,328.8 150.0,332.4 150.5,336.0 150.7,337.7 151.0,336.0 151.5,333.2 152.0,331.6 152.5,330.0 152.7,329.0 153.0,327.4 153.5,325.2 154.0,322.1 154.5,326.3 155.0,329.6 155.3,333.3 155.5,333.0 156.0,330.6 156.5,328.6 157.0,327.2 157.3,327.2 157.5,327.2 158.0,327.2 158.5,327.2 159.0,327.8 159.5,329.2 160.0,330.4 160.5,332.4 161.0,334.2 161.5,334.6 162.0,336.0 162.5,335.1 163.0,334.0 163.3,333.0 163.5,334.2 164.0,336.3 164.5,338.5 165.0,341.4 165.3,343.9 165.5,341.7 166.0,337.0 166.5,332.9 167.0,331.7 167.5,330.5 168.0,328.8 168.3,327.1 168.5,325.5 169.0,322.4 169.5,319.7 170.0,318.1 170.5,315.4 171.0,317.6 171.5,318.0 172.0,319.9 172.5,321.6 173.0,323.8 173.5,319.2 174.0,315.7 174.5,311.7 175.0,307.5 175.5,303.1 176.0,298.3 176.5,293.5 177.0,289.0 177.5,281.3 178.0,271.8 178.5,271.2 179.0,270.7 179.4,270.6 180.0,282.3 180.3,287.0 180.5,289.0 181.0,295.9 181.5,303.2 181.7,306.1 182.0,302.1 182.5,296.8 183.0,292.3 183.5,294.2 184.0,294.5 184.5,294.2 185.0,295.2 185.5,290.7 186.0,287.6 186.3,284.8 186.5,284.9 187.0,284.4 187.4,283.7 188.0,292.2 188.3,296.8 188.5,303.2 189.0,316.3 189.4,328.7 190.0,329.2 190.5,331.6 191.0,332.5 191.5,347.3 191.7,353.0 192.0,354.3 192.5,356.5 193.0,358.9 193.5,362.0 193.7,363.5 194.0,363.8 194.5,364.1 195.0,364.3 195.5,359.7 196.0,355.2 196.5,350.6 196.7,347.9 197.0,348.3 197.5,349.3 198.0,350.1 198.5,350.3 199.0,352.0 199.5,345.0 200.0,338.6 200.5,331.9 201.0,324.1 201.5,328.0 202.0,331.7 202.3,333.7 202.5,334.3 203.0,336.1 203.5,337.7 204.0,339.8 204.3,341.3 204.5,339.9 205.0,336.4 205.5,333.7 206.0,330.2 206.3,327.2 206.5,325.1 207.0,320.9 207.5,316.5 208.0,311.2 208.5,315.3 209.0,319.3 209.5,323.3 209.7,324.3 210.0,326.6 210.5,330.9 210.7,332.7 211.0,330.3 211.5,326.5 212.0,322.3 212.3,319.7 212.5,317.3 213.0,310.6 213.5,304.8 213.7,301.8 214.0,300.6 214.5,299.0 215.0,297.3 215.5,294.8 215.7,293.5 216.0,296.1 216.5,299.3 217.0,305.2 217.5,300.2 218.0,294.8 218.3,291.9 218.5,291.6 219.0,289.2 219.5,285.2 219.7,283.3 220.0,284.7 220.5,287.8 220.7,288.4 221.0,290.9 221.5,294.8 222.0,299.5 222.5,295.6 223.0,290.9 223.3,287.3 223.5,292.9 224.0,306.3 224.3,316.1 224.5,314.9 225.0,312.2 225.5,309.4 226.0,307.2 226.3,304.7 226.5,302.9 227.0,299.4 227.5,296.2 228.0,292.8 228.3,290.5 228.5,289.4 229.0,287.4 229.5,284.3 230.0,281.0 230.5,286.0 231.0,290.1 231.3,293.5 231.5,291.8 232.0,289.0 232.5,287.7 233.0,284.4 233.5,287.1 234.0,289.4 234.5,291.9 235.0,293.8 235.5,292.6 236.0,291.4 236.5,289.9 237.0,288.9 237.5,282.7 238.0,276.9 238.3,273.5 238.5,271.2 239.0,263.5 239.4,256.8 240.0,248.6 240.3,243.8 240.5,240.3 241.0,232.9 241.2,230.0 241.5,223.6 241.8,215.8 242.0,210.3 242.3,202.5 242.5,204.4 243.0,207.4 243.5,202.6 243.8,200.2 244.0,199.4 244.5,195.4 245.0,189.1 245.3,185.3 245.5,190.4 246.0,200.4 246.6,216.3 247.0,209.3 247.5,200.6 248.0,191.1 248.3,185.4 248.5,180.8 249.1,165.8 249.5,153.2 249.7,147.6 250.0,137.8 250.4,123.7 251.0,108.7 251.4,100.8 252.0,80.6 252.3,68.3 252.5,60.8 253.1,37.9 253.4,68.5 253.7,102.5 253.9,121.6 254.2,146.0 254.5,160.2 255.0,148.2 255.2,143.1 255.5,136.1 255.7,132.4 256.1,145.4 256.5,157.6 256.7,139.5 256.9,124.6 257.4,104.4 258.0,113.0 258.5,107.2 259.0,100.1 259.3,97.7 259.5,96.1 260.0,91.1 260.5,83.8 261.1,83.9 261.5,95.8 261.8,104.6 262.0,117.2 262.2,129.3 262.6,144.8 262.9,169.9 263.3,192.4 263.5,186.4 263.8,177.7 264.0,183.1 264.3,190.5 264.5,182.2 264.8,172.0 265.0,167.1 265.5,150.7 266.0,161.9 266.3,168.5 266.5,173.1 267.0,181.7 267.5,190.6 268.0,201.8 268.3,208.5 268.5,209.6 269.0,211.8 269.5,203.5 270.0,195.5 270.5,183.8 271.0,172.7 271.5,164.0 272.0,153.7 272.5,144.8 273.0,136.6 273.5,144.6 274.0,152.0 274.5,157.7 275.0,163.9 275.5,168.4 276.0,172.9 276.5,177.5 277.0,181.7 277.5,186.1 278.0,191.2 278.5,197.0 279.0,202.8 279.3,206.0 279.5,208.2 280.0,215.6 280.3,220.5 280.5,219.7 281.0,216.2 281.5,213.5 281.7,212.7 282.0,210.4 282.5,207.1 283.0,203.3 283.5,200.2 284.0,192.3 284.5,186.2 284.8,182.4 285.0,179.1 285.5,172.0 285.8,167.1 286.0,164.9 286.5,159.7 287.0,154.4 287.5,160.3 287.8,163.5 288.0,165.3 288.6,172.0 289.0,181.6 289.2,186.1 289.5,177.8 289.8,171.6 290.0,170.5 290.4,162.5 291.0,159.5 291.6,176.4 292.0,188.1 292.2,194.0 292.5,188.5 293.0,180.3 293.5,178.8 294.0,173.7 294.5,178.2 295.0,183.0 295.3,184.6 295.5,186.0 296.0,190.7 296.3,193.5 296.5,195.0 297.0,198.5 297.5,200.6 298.0,204.5 298.3,206.6 298.5,209.1 299.0,215.2 299.5,221.8 299.7,224.8 300.0,245.6 300.5,243.7 301.0,241.9 301.5,243.8 301.7,243.1 302.0,246.4 302.5,252.4 303.0,258.6 303.5,267.2 304.0,275.8 304.5,285.3 305.0,282.9 305.5,281.0 306.0,279.7 306.3,278.8 306.5,275.7 307.0,268.6 307.5,261.3 307.7,258.9 308.0,249.9 308.3,238.9 308.5,239.8 309.0,242.5 309.5,245.9 309.7,247.4 310.0,250.3 310.5,256.0 311.0,262.6 311.5,257.3 312.0,255.5 312.3,252.8 312.5,254.9 313.0,260.9 313.5,265.8 313.7,266.9 314.0,269.9 314.5,275.2 315.0,281.9 315.5,279.5 316.0,278.0 316.5,276.9 317.0,275.1 317.5,276.4 318.0,277.6 318.3,279.1 318.5,276.4 319.0,270.7 319.5,265.1 319.7,262.5 320.0,262.7 320.5,262.5 321.0,262.4 321.5,266.7 322.0,271.2 322.3,274.2 322.5,274.5 323.0,275.8 323.5,276.7 323.7,277.0 324.0,278.6 324.5,280.7 325.0,281.5 325.5,282.6 326.0,283.8 326.5,276.9 327.0,271.5 327.5,270.4 328.0,269.0 328.5,267.9 329.0,266.5 329.5,266.6 330.0,267.9 330.5,270.4 331.0,272.5 331.5,275.1 332.0,277.9 332.5,280.6 333.0,283.7 333.5,286.8 333.7,287.5 334.0,289.9 334.5,295.0 335.0,300.1 335.5,303.3 336.0,305.5 336.5,307.8 337.0,310.6 337.5,307.2 338.0,304.5 338.3,301.5 338.5,303.1 339.0,305.6 339.5,307.5 339.7,308.9 340.0,305.4 340.5,300.1 341.0,295.5 341.4,291.5 342.0,299.0 342.3,300.6 342.5,301.8 343.0,305.1 343.5,307.4 344.0,310.2 344.3,312.3 344.5,310.9 345.0,307.8 345.5,305.2 346.0,303.3 346.3,301.0 346.5,301.6 347.0,302.5 347.5,303.3 347.7,303.8 348.0,302.2 348.5,300.0 349.0,296.4 349.5,300.2 350.0,303.2 350.3,305.5 350.5,305.9 351.0,307.4 351.5,309.6 352.0,312.0 352.3,312.6 352.5,313.3 353.0,315.8 353.5,318.3 353.7,319.7 354.0,320.8 354.5,321.7 355.0,322.5 355.5,322.9 355.7,323.0 356.0,321.2 356.5,319.7 357.0,317.6 357.5,314.6 357.7,312.6 358.0,311.0 358.5,309.7 359.0,309.0 359.5,308.3 359.7,308.2 360.0,310.3 360.5,312.9 361.0,316.8 361.5,319.0 362.0,321.3 362.5,322.7 363.0,323.6 363.5,324.0 364.0,324.1 364.5,324.3 365.0,324.5 365.5,321.7 366.0,318.5 366.5,315.6 367.0,313.4 367.5,312.3 368.0,311.4 368.5,310.3 369.0,310.7 369.5,310.8 370.0,312.5 370.5,308.1 371.0,303.6 371.5,299.6 371.7,298.3 372.0,299.2 372.5,298.1 373.0,297.4 373.5,297.1 373.7,297.0 374.0,293.7 374.5,289.5 375.0,284.2 375.5,280.4 376.0,276.9 376.3,274.5 376.5,274.2 377.0,273.2 377.5,272.4 378.0,271.5 378.5,274.2 379.0,277.4 379.5,279.9 379.7,281.2 380.0,280.1 380.5,279.8 381.0,279.4 381.3,277.9 381.5,280.4 382.0,285.5 382.3,288.2 382.5,287.9 383.0,288.2 383.5,289.3 384.0,290.9 384.3,290.5 384.5,292.0 385.0,295.6 385.5,299.8 385.7,300.4 386.0,301.6 386.5,304.1 387.0,306.1 387.5,308.4 387.7,309.4 388.0,307.2 388.5,304.3 389.0,301.4 389.5,298.7 389.7,298.0 390.0,296.3 390.5,293.9 391.0,291.0 391.5,292.7 392.0,294.3 392.3,295.2 392.5,294.8 393.0,294.2 393.5,292.7 394.0,291.3 394.6,288.7 395.0,292.6 395.5,295.3 396.0,297.9 396.3,300.8 396.5,299.9 397.0,299.0 397.5,298.4 397.7,297.8 398.0,299.7 398.5,301.6 399.0,303.5 399.5,305.5 400.0,307.6 400.3,309.1 400.5,308.2 401.0,306.0 401.5,304.3 402.0,301.7 402.3,300.4 402.5,299.8 403.0,297.5 403.5,295.7 404.0,293.4 404.5,295.9 405.0,298.0 405.5,300.0 405.7,300.8 406.0,299.6 406.5,299.6 407.0,299.0 407.5,298.7 407.7,298.2 408.0,300.1 408.5,302.1 409.0,303.9 409.5,305.2 410.0,306.7 410.3,308.9 410.5,308.1 411.0,305.1 411.5,302.9 412.0,301.0 412.5,300.5 413.0,298.8 413.5,300.2 414.0,300.5 414.5,302.3 415.0,303.7 415.5,303.7 416.0,303.6 416.5,302.5 417.0,301.1 417.5,300.6 418.0,300.9 418.3,300.8 418.5,301.1 419.0,302.2 419.5,303.8 420.0,304.9 420.5,304.6 421.0,304.1 421.5,302.5 422.0,301.0 422.3,300.1 422.5,302.1 423.0,304.1 423.5,306.1 424.0,309.4 424.5,311.5 425.0,312.9 425.5,314.5 426.0,316.1 426.3,317.5 426.5,318.6 427.0,320.2 427.5,321.8 428.0,322.7 428.3,323.2 428.5,323.0 429.0,322.7 429.5,321.7 430.0,320.5 430.3,320.4 430.5,320.7 431.0,320.8 431.5,321.3 432.0,322.1 432.3,321.5 432.5,320.8 433.0,320.0 433.5,318.6 434.0,317.1 434.5,315.4 435.0,313.6 435.5,312.5 436.0,311.5 436.5,310.8 437.0,310.1 437.5,309.8 438.0,309.4 438.3,308.7 438.5,309.4 439.0,311.5 439.5,313.6 439.7,314.4 440.0,314.6 440.5,315.5 441.0,315.9 441.5,315.5 441.7,314.8 442.0,314.4 442.5,315.4 443.0,316.4 443.5,317.5 444.0,318.9 444.5,319.3 445.0,319.6 445.5,318.8 446.0,317.4 446.5,315.9 447.0,314.1 447.5,311.2 448.0,308.2 448.5,305.0 449.0,301.6 449.5,297.9 450.0,293.7 450.3,291.6 450.5,290.7 451.0,287.4 451.6,281.5 452.0,284.0 452.5,286.9 453.0,289.3 453.2,290.4 453.5,291.5 454.0,293.0 454.5,294.5 455.0,296.8 455.5,295.2 456.0,293.3 456.2,291.6 456.5,293.8 457.0,296.3 457.5,299.3 457.8,301.9 458.0,299.9 458.5,297.3 459.0,295.2 459.6,291.8 460.0,292.3 460.5,293.5 461.0,294.7 461.5,292.9 462.0,290.5 462.6,286.7 463.0,295.4 463.5,305.6 463.7,308.2 464.0,322.2 464.4,342.0 465.0,325.2 465.5,314.1 465.7,309.0 466.0,310.6 466.5,313.3 467.0,313.8 467.6,317.1 468.0,309.4 468.5,301.7 469.1,289.8 469.5,292.3 470.0,292.5 470.2,293.5 470.5,288.7 471.0,280.3 471.3,275.1 471.5,268.3 472.0,250.3 472.4,227.7 473.0,207.2 473.2,201.0 473.5,201.8 474.0,202.4 474.5,203.6 475.0,206.0 475.6,208.7 476.0,228.6 476.3,248.5 476.5,246.7 477.0,241.2 477.2,238.8 477.5,235.8 478.0,230.9 478.5,236.3 479.0,240.2 479.5,244.2 480.0,251.3 480.3,255.3 480.5,250.9 481.0,240.2 481.2,237.1 481.5,232.9 482.0,223.6 482.5,215.1 483.0,222.8 483.5,232.8 484.1,213.6 484.5,204.2 484.7,198.9 485.0,200.5 485.5,203.1 486.0,205.7 486.5,208.8 487.0,212.5 487.3,214.4 487.5,217.7 488.0,224.9 488.6,238.7 489.0,232.0 489.6,222.9 490.0,219.3 490.5,214.5 490.8,210.6 491.0,209.9 491.5,209.2 492.0,208.3 492.5,208.0 493.0,208.9 493.5,209.8 494.0,213.5 494.5,216.9 495.1,222.2 495.5,224.6 496.0,227.7 496.5,230.7 497.0,233.9 497.4,237.4 498.0,243.7 498.5,248.7 499.0,251.4 499.5,256.0 500.0,261.2 500.5,253.0 501.0,246.3 501.3,243.3 501.5,242.2 502.0,239.9 502.5,237.1 503.0,233.9 503.3,232.6 503.5,236.3 504.0,243.2 504.3,245.7 504.5,247.7 505.0,255.5 505.3,259.8 505.5,256.8 506.0,250.4 506.3,246.7 506.5,249.1 507.0,252.4 507.3,254.8 507.5,251.9 508.0,246.2 508.3,242.3 508.5,243.4 509.0,247.5 509.3,251.3 509.5,245.8 510.0,233.1 510.5,227.0 511.0,220.3 511.5,223.6 512.0,224.7 512.3,225.8 512.5,225.0 513.0,226.4 513.5,227.1 514.0,227.1 514.5,246.7 514.7,255.4 515.0,261.6 515.3,267.1 515.5,266.3 516.0,264.0 516.5,262.6 517.0,261.3 517.3,259.1 517.5,259.7 518.0,262.6 518.5,265.8 519.0,269.2 519.3,271.4 519.5,274.1 520.0,282.0 520.5,286.6 520.7,288.9 521.0,284.7 521.4,279.3 522.0,287.7 522.5,292.3 522.7,294.0 523.0,288.7 523.4,283.7 524.0,289.9 524.5,280.4 524.7,276.9 525.0,273.1 525.3,270.8 525.5,269.7 526.0,265.5 526.5,262.4 526.7,262.2 527.0,260.0 527.5,255.8 528.0,251.9 528.5,248.5 528.7,246.8 529.0,244.3 529.5,242.2 530.0,241.1 530.5,239.3 530.7,238.1 531.0,239.2 531.5,240.4 532.0,241.7 532.5,243.4 532.7,244.2 533.0,249.4 533.5,255.2 534.0,263.6 534.5,272.2 535.0,259.9 535.5,248.8 536.0,240.1 536.5,230.1 536.7,226.7 537.0,227.1 537.5,226.8 538.0,226.2 538.5,231.4 539.0,235.7 539.3,239.6 539.5,241.1 540.0,243.6 540.5,246.2 541.0,250.2 541.3,253.0 541.5,251.1 542.0,246.1 542.5,242.6 543.0,237.4 543.3,234.5 543.5,236.4 544.0,238.9 544.5,241.8 544.7,244.1 545.0,242.4 545.5,240.8 546.0,238.3 546.5,243.1 547.0,246.6 547.3,248.5 547.5,250.3 548.0,253.1 548.5,256.8 548.7,258.7 549.0,256.8 549.5,253.1 550.0,249.5 550.5,245.6 550.7,244.3 551.0,240.7 551.5,235.4 552.0,228.8 552.5,232.3 553.0,235.9 553.5,238.0 554.0,241.3 554.5,245.4 555.0,249.4 555.3,251.3 555.5,251.7 556.0,253.3 556.5,254.9 556.7,255.9 557.0,253.2 557.5,249.3 558.0,245.8 558.5,241.0 559.0,236.2 559.3,233.6 559.5,231.3 560.0,225.8 560.3,222.7 560.5,219.5 561.0,209.1 561.6,207.9 562.0,197.5 562.2,193.0 562.5,187.3 563.1,176.5 563.5,184.7 563.8,188.0 564.0,185.2 564.4,181.7 565.0,196.4 565.6,185.5 566.0,183.8 566.3,182.3 566.5,190.2 566.8,199.6 567.0,198.2 567.3,194.0 567.5,198.3 568.0,208.8 568.3,216.3 568.5,213.4 569.0,207.5 569.2,205.3 569.5,202.6 570.0,197.4 570.6,200.2 571.0,188.8 571.3,182.4 571.5,178.5 572.0,169.0 572.5,162.7 573.0,157.0 573.2,154.5 573.5,154.2 574.0,154.7 574.2,155.5 574.5,162.6 574.8,167.9 575.0,171.8 575.4,183.0 576.0,175.7 576.2,172.1 576.5,180.9 576.8,188.8 577.0,190.5 577.5,195.8 578.0,184.4 578.2,181.7 578.5,185.6 578.8,189.0 579.0,184.0 579.5,172.6 580.0,178.9 580.2,181.8 580.5,174.5 580.9,167.4 581.5,163.3 582.0,159.4 582.5,157.3 583.0,155.3 583.3,154.3 583.5,164.2 583.8,175.7 584.0,187.1 584.2,198.1 584.5,190.9 584.9,181.3 585.5,167.5 586.0,171.6 586.3,172.4 586.5,170.2 587.0,165.7 587.2,163.5 587.5,156.1 588.0,148.6 588.6,135.9 589.0,138.2 589.3,137.0 589.5,135.7 590.0,131.3 590.2,129.5 590.5,126.4 591.0,121.5 591.3,118.2 591.5,118.6 592.0,118.3 592.5,116.6 593.0,116.7 593.5,117.8 594.0,118.3"/>
</g>
<g text-anchor="middle" style="filter:grayscale(1)">
<text x="103" y="447">2005</text>
<text x="221.7" y="447">2010</text>
<text x="340.4" y="447">2015</text>
<text x="459.2" y="447">2020</text>
</g>
</svg>
</body></html>
